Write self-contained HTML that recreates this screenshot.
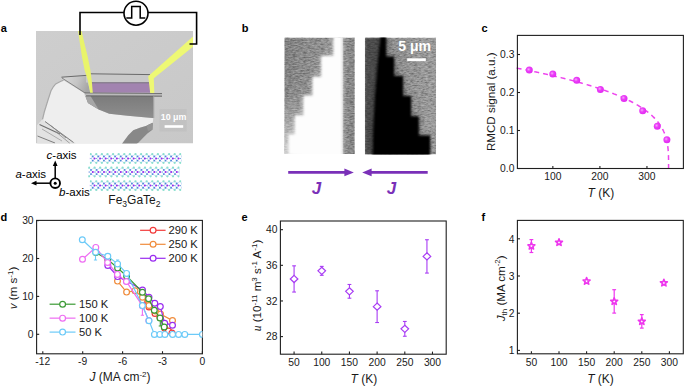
<!DOCTYPE html>
<html><head><meta charset="utf-8"><title>figure</title>
<style>
html,body{margin:0;padding:0;background:#fff;width:685px;height:386px;overflow:hidden;}
svg{display:block;}
text{font-family:"Liberation Sans",sans-serif;}
</style></head><body>
<svg width="685" height="386" viewBox="0 0 685 386">
<rect width="685" height="386" fill="#fff"/>
<text x="0.80" y="31.60" font-size="11" text-anchor="start" font-weight="bold" fill="#000" >a</text>
<text x="241.80" y="32.20" font-size="11" text-anchor="start" font-weight="bold" fill="#000" >b</text>
<text x="481.60" y="31.80" font-size="11" text-anchor="start" font-weight="bold" fill="#000" >c</text>
<text x="0.60" y="220.80" font-size="11" text-anchor="start" font-weight="bold" fill="#000" >d</text>
<text x="241.60" y="220.80" font-size="11" text-anchor="start" font-weight="bold" fill="#000" >e</text>
<text x="481.60" y="220.60" font-size="11" text-anchor="start" font-weight="bold" fill="#000" >f</text>
<defs>
<clipPath id="clipA"><rect x="36" y="31" width="157" height="112.5"/></clipPath>
<linearGradient id="bgA" x1="0" y1="0" x2="1" y2="1"><stop offset="0" stop-color="#cecece"/><stop offset="1" stop-color="#c8c8c8"/></linearGradient>
<linearGradient id="wedge" x1="0" y1="0" x2="1" y2="0.3"><stop offset="0" stop-color="#dcdcdc"/><stop offset="0.6" stop-color="#c4c4c4"/><stop offset="1" stop-color="#a6a6a6"/></linearGradient>
<linearGradient id="shadow" x1="0" y1="0" x2="0" y2="1"><stop offset="0" stop-color="#7b7b7b"/><stop offset="1" stop-color="#8e8e8e"/></linearGradient>
<filter id="noise" x="0" y="0" width="100%" height="100%"><feTurbulence type="fractalNoise" baseFrequency="0.9" numOctaves="2" seed="3"/><feColorMatrix type="matrix" values="0 0 0 0 0.5  0 0 0 0 0.5  0 0 0 0 0.5  1.2 0 0 0 -0.35"/></filter>
<filter id="noise2" x="0" y="0" width="100%" height="100%"><feTurbulence type="fractalNoise" baseFrequency="0.55 0.9" numOctaves="2" seed="7"/><feColorMatrix type="matrix" values="0 0 0 0 0  0 0 0 0 0  0 0 0 0 0  0 0 0 -1.4 0.75"/></filter>
<filter id="noise3" x="0" y="0" width="100%" height="100%"><feTurbulence type="fractalNoise" baseFrequency="0.55 0.9" numOctaves="2" seed="11"/><feColorMatrix type="matrix" values="0 0 0 0 1  0 0 0 0 1  0 0 0 0 1  0 0 0 1.4 -0.55"/></filter>
<radialGradient id="sph" cx="0.4" cy="0.4" r="0.6"><stop offset="0" stop-color="#f6a6fb"/><stop offset="0.45" stop-color="#ea3ff7"/><stop offset="1" stop-color="#e22af2"/></radialGradient>
</defs>
<g clip-path="url(#clipA)">
<rect x="36" y="31" width="157" height="112.5" fill="url(#bgA)"/>
<path d="M37.5,125 L42.5,119.5 L44.3,112 L48,100 L51,90.7 L53.5,86.5 L55.7,83.9 L60.9,81.3 L63.5,80.3 L88,95.6 L85.3,96.2 L88,103 L98.7,109.6 L109.2,113.7 L127.6,115.7 L152.3,117.9 L153.2,118.5 L152.8,122.8 L149,124.4 L146.6,125.7 L139.9,127.8 L133.3,130.3 L128.3,135.2 L123.3,141.9 L121.8,144 L37.5,144 Z" fill="#eeeeee"/>
<path d="M42.5,119.5 L44.3,112 L48,100 L51,90.7 L53.5,86.5 L55.7,83.9 L60.9,81.3 L63.5,80.3" stroke="#a8a8a8" stroke-width="1.2" fill="none"/>
<path d="M37.5,125 L42.5,119.5 L75.5,143 L75.5,144 L37.5,144 Z" fill="#e2e2e2"/>
<line x1="39.5" y1="124.5" x2="60" y2="134" stroke="#6e6e6e" stroke-width="1.1"/>
<line x1="45" y1="121.5" x2="73.5" y2="142.5" stroke="#7a7a7a" stroke-width="1.0"/>
<line x1="50" y1="125" x2="66" y2="138" stroke="#8a8a8a" stroke-width="0.9"/>
<line x1="37.5" y1="136" x2="55" y2="143" stroke="#7e7e7e" stroke-width="1.0"/>
<line x1="42" y1="129" x2="62" y2="141" stroke="#a0a0a0" stroke-width="0.8"/>
<line x1="55" y1="131" x2="70" y2="143.5" stroke="#909090" stroke-width="0.8"/>
<path d="M85.3,95.6 L153.5,95.6 L153.5,118 L152.3,117.9 L127.6,115.7 L109.2,113.7 L98.7,109.6 L88,103 Z" fill="url(#shadow)"/>
<path d="M85.3,96 L90.5,96 L98.7,109.6 L88,103 Z" fill="#a6a6a6"/>
<path d="M121.8,144 L123.3,141.9 L128.3,135.2 L133.3,130.3 L139.9,127.8 L146.6,125.7 L149,124.4 L152.8,122.8 L152.4,129.8 L147.4,133.6 L142.4,138.6 L138.3,142.7 L136.6,144 Z" fill="#888888"/>
<path d="M146.6,125.7 L149,124.4 L152.8,122.8 L152.4,129.8 L148,131 Z" fill="#959595"/>
<path d="M61.4,77.4 L86,75.4 L90.5,93 L88.3,95.4 Z" fill="url(#wedge)"/>
<path d="M62,78 L88.5,95.2" stroke="#858585" stroke-width="1" fill="none"/>
<rect x="86" y="74.5" width="66" height="8" fill="#c9c9c9"/>
<path d="M61.4,77.2 L86,75.4 L91,73.8 L150,74.6" stroke="#6a6a6a" stroke-width="1" fill="none"/>
<rect x="90.5" y="82.3" width="60" height="10.4" fill="#a283b0"/>
<line x1="90.5" y1="82.8" x2="150.5" y2="82.8" stroke="#7c7880" stroke-width="1"/>
<path d="M84.7,93 L162,93.6 L162,96 L84.7,95.6 Z" fill="#bababa"/>
<line x1="84.7" y1="92.9" x2="162" y2="93.5" stroke="#6a6a6a" stroke-width="0.9"/>
<line x1="86" y1="95.9" x2="162" y2="96.2" stroke="#666" stroke-width="1"/>
<line x1="153.8" y1="96" x2="153.8" y2="118" stroke="#a0a0a0" stroke-width="0.8"/>
<rect x="154" y="75" width="6" height="18" fill="#cbcbcb"/>
<path d="M78.1,31 L81.6,31 L84.6,44 L87.8,57 L90.4,70 L91.8,81 L92.8,92.8 L90.2,92.8 L88,81 L84.6,70 L82,57 L80,44 Z" fill="#e9f46a"/>
<path d="M193,36.6 L193,46.8 L153.8,78.2 L154.3,93 L150.2,93 L148.2,76.3 Z" fill="#eef874"/>
<rect x="159.3" y="109" width="27.5" height="22.5" fill="#000" opacity="0.03"/>
<text x="173.60" y="120.10" font-size="8.9" text-anchor="middle" font-weight="bold" fill="#fff" >10 μm</text>
<rect x="164.6" y="125.2" width="18.6" height="2.6" fill="#fff"/>
</g>
<path d="M80,35 L80,12.5 L124,12.5" stroke="#000" stroke-width="1.6" fill="none"/>
<path d="M148,12.5 L196.6,12.5 L196.6,44 L189.5,44" stroke="#000" stroke-width="1.6" fill="none"/>
<circle cx="136" cy="13.2" r="12" stroke="#000" stroke-width="1.6" fill="#fff"/>
<path d="M126.3,17.9 L131.7,17.9 L131.7,6.6 L140.2,6.6 L140.2,17.9 L145.3,17.9" stroke="#000" stroke-width="1.5" fill="none"/>
<line x1="55.2" y1="183.2" x2="55.2" y2="164.5" stroke="#000" stroke-width="1.5"/>
<path d="M55.2,160.5 L52.8,166 L57.6,166 Z" fill="#000"/>
<line x1="55.2" y1="183.2" x2="35" y2="183.2" stroke="#000" stroke-width="1.5"/>
<path d="M31,183.2 L36.5,180.8 L36.5,185.6 Z" fill="#000"/>
<circle cx="55.2" cy="183.2" r="4.8" stroke="#000" stroke-width="1.9" fill="#fff"/>
<circle cx="55.2" cy="183.2" r="1.5" fill="#000"/>
<text x="46.6" y="158.6" font-size="11.5" fill="#000"><tspan font-style="italic">c</tspan>-axis</text>
<text x="15.4" y="177.5" font-size="11.5" fill="#000"><tspan font-style="italic">a</tspan>-axis</text>
<text x="59.0" y="196.1" font-size="11.5" fill="#000"><tspan font-style="italic">b</tspan>-axis</text>
<g clip-path="url(#clipCr)">
<clipPath id="clipCr"><rect x="88" y="152" width="94" height="40"/></clipPath>
</g>
<clipPath id="clipCr1"><rect x="89.9" y="150" width="91.5" height="16"/></clipPath><clipPath id="clipCr2"><rect x="88.3" y="165" width="91.3" height="14"/></clipPath><clipPath id="clipCr3"><rect x="89.9" y="178" width="91.5" height="14"/></clipPath>
<g clip-path="url(#clipCr1)"><path d="M85.10,154.20 L87.10,156.40 L90.70,154.20 M85.10,162.80 L87.10,160.60 L90.70,162.80 M87.10,156.40 L88.90,158.50 L87.10,160.60 M87.10,156.40 L85.40,158.50 L87.10,160.60 M88.90,158.50 L91.00,158.50" stroke="#a9c6ee" stroke-width="0.55" fill="none"/><circle cx="85.10" cy="154.20" r="1.15" fill="#8adfcf"/><circle cx="85.10" cy="162.80" r="1.15" fill="#8adfcf"/><circle cx="87.10" cy="156.40" r="0.95" fill="#4f8ad9"/><circle cx="87.10" cy="160.60" r="0.95" fill="#4f8ad9"/><circle cx="85.40" cy="158.50" r="0.6" fill="#6b9fe0"/><circle cx="88.90" cy="158.50" r="1.0" fill="#9b25ee"/><path d="M90.70,154.20 L92.70,156.40 L96.30,154.20 M90.70,162.80 L92.70,160.60 L96.30,162.80 M92.70,156.40 L94.50,158.50 L92.70,160.60 M92.70,156.40 L91.00,158.50 L92.70,160.60 M94.50,158.50 L96.60,158.50" stroke="#a9c6ee" stroke-width="0.55" fill="none"/><circle cx="90.70" cy="154.20" r="1.15" fill="#8adfcf"/><circle cx="90.70" cy="162.80" r="1.15" fill="#8adfcf"/><circle cx="92.70" cy="156.40" r="0.95" fill="#4f8ad9"/><circle cx="92.70" cy="160.60" r="0.95" fill="#4f8ad9"/><circle cx="91.00" cy="158.50" r="0.6" fill="#6b9fe0"/><circle cx="94.50" cy="158.50" r="1.0" fill="#9b25ee"/><path d="M96.30,154.20 L98.30,156.40 L101.90,154.20 M96.30,162.80 L98.30,160.60 L101.90,162.80 M98.30,156.40 L100.10,158.50 L98.30,160.60 M98.30,156.40 L96.60,158.50 L98.30,160.60 M100.10,158.50 L102.20,158.50" stroke="#a9c6ee" stroke-width="0.55" fill="none"/><circle cx="96.30" cy="154.20" r="1.15" fill="#8adfcf"/><circle cx="96.30" cy="162.80" r="1.15" fill="#8adfcf"/><circle cx="98.30" cy="156.40" r="0.95" fill="#4f8ad9"/><circle cx="98.30" cy="160.60" r="0.95" fill="#4f8ad9"/><circle cx="96.60" cy="158.50" r="0.6" fill="#6b9fe0"/><circle cx="100.10" cy="158.50" r="1.0" fill="#9b25ee"/><path d="M101.90,154.20 L103.90,156.40 L107.50,154.20 M101.90,162.80 L103.90,160.60 L107.50,162.80 M103.90,156.40 L105.70,158.50 L103.90,160.60 M103.90,156.40 L102.20,158.50 L103.90,160.60 M105.70,158.50 L107.80,158.50" stroke="#a9c6ee" stroke-width="0.55" fill="none"/><circle cx="101.90" cy="154.20" r="1.15" fill="#8adfcf"/><circle cx="101.90" cy="162.80" r="1.15" fill="#8adfcf"/><circle cx="103.90" cy="156.40" r="0.95" fill="#4f8ad9"/><circle cx="103.90" cy="160.60" r="0.95" fill="#4f8ad9"/><circle cx="102.20" cy="158.50" r="0.6" fill="#6b9fe0"/><circle cx="105.70" cy="158.50" r="1.0" fill="#9b25ee"/><path d="M107.50,154.20 L109.50,156.40 L113.10,154.20 M107.50,162.80 L109.50,160.60 L113.10,162.80 M109.50,156.40 L111.30,158.50 L109.50,160.60 M109.50,156.40 L107.80,158.50 L109.50,160.60 M111.30,158.50 L113.40,158.50" stroke="#a9c6ee" stroke-width="0.55" fill="none"/><circle cx="107.50" cy="154.20" r="1.15" fill="#8adfcf"/><circle cx="107.50" cy="162.80" r="1.15" fill="#8adfcf"/><circle cx="109.50" cy="156.40" r="0.95" fill="#4f8ad9"/><circle cx="109.50" cy="160.60" r="0.95" fill="#4f8ad9"/><circle cx="107.80" cy="158.50" r="0.6" fill="#6b9fe0"/><circle cx="111.30" cy="158.50" r="1.0" fill="#9b25ee"/><path d="M113.10,154.20 L115.10,156.40 L118.70,154.20 M113.10,162.80 L115.10,160.60 L118.70,162.80 M115.10,156.40 L116.90,158.50 L115.10,160.60 M115.10,156.40 L113.40,158.50 L115.10,160.60 M116.90,158.50 L119.00,158.50" stroke="#a9c6ee" stroke-width="0.55" fill="none"/><circle cx="113.10" cy="154.20" r="1.15" fill="#8adfcf"/><circle cx="113.10" cy="162.80" r="1.15" fill="#8adfcf"/><circle cx="115.10" cy="156.40" r="0.95" fill="#4f8ad9"/><circle cx="115.10" cy="160.60" r="0.95" fill="#4f8ad9"/><circle cx="113.40" cy="158.50" r="0.6" fill="#6b9fe0"/><circle cx="116.90" cy="158.50" r="1.0" fill="#9b25ee"/><path d="M118.70,154.20 L120.70,156.40 L124.30,154.20 M118.70,162.80 L120.70,160.60 L124.30,162.80 M120.70,156.40 L122.50,158.50 L120.70,160.60 M120.70,156.40 L119.00,158.50 L120.70,160.60 M122.50,158.50 L124.60,158.50" stroke="#a9c6ee" stroke-width="0.55" fill="none"/><circle cx="118.70" cy="154.20" r="1.15" fill="#8adfcf"/><circle cx="118.70" cy="162.80" r="1.15" fill="#8adfcf"/><circle cx="120.70" cy="156.40" r="0.95" fill="#4f8ad9"/><circle cx="120.70" cy="160.60" r="0.95" fill="#4f8ad9"/><circle cx="119.00" cy="158.50" r="0.6" fill="#6b9fe0"/><circle cx="122.50" cy="158.50" r="1.0" fill="#9b25ee"/><path d="M124.30,154.20 L126.30,156.40 L129.90,154.20 M124.30,162.80 L126.30,160.60 L129.90,162.80 M126.30,156.40 L128.10,158.50 L126.30,160.60 M126.30,156.40 L124.60,158.50 L126.30,160.60 M128.10,158.50 L130.20,158.50" stroke="#a9c6ee" stroke-width="0.55" fill="none"/><circle cx="124.30" cy="154.20" r="1.15" fill="#8adfcf"/><circle cx="124.30" cy="162.80" r="1.15" fill="#8adfcf"/><circle cx="126.30" cy="156.40" r="0.95" fill="#4f8ad9"/><circle cx="126.30" cy="160.60" r="0.95" fill="#4f8ad9"/><circle cx="124.60" cy="158.50" r="0.6" fill="#6b9fe0"/><circle cx="128.10" cy="158.50" r="1.0" fill="#9b25ee"/><path d="M129.90,154.20 L131.90,156.40 L135.50,154.20 M129.90,162.80 L131.90,160.60 L135.50,162.80 M131.90,156.40 L133.70,158.50 L131.90,160.60 M131.90,156.40 L130.20,158.50 L131.90,160.60 M133.70,158.50 L135.80,158.50" stroke="#a9c6ee" stroke-width="0.55" fill="none"/><circle cx="129.90" cy="154.20" r="1.15" fill="#8adfcf"/><circle cx="129.90" cy="162.80" r="1.15" fill="#8adfcf"/><circle cx="131.90" cy="156.40" r="0.95" fill="#4f8ad9"/><circle cx="131.90" cy="160.60" r="0.95" fill="#4f8ad9"/><circle cx="130.20" cy="158.50" r="0.6" fill="#6b9fe0"/><circle cx="133.70" cy="158.50" r="1.0" fill="#9b25ee"/><path d="M135.50,154.20 L137.50,156.40 L141.10,154.20 M135.50,162.80 L137.50,160.60 L141.10,162.80 M137.50,156.40 L139.30,158.50 L137.50,160.60 M137.50,156.40 L135.80,158.50 L137.50,160.60 M139.30,158.50 L141.40,158.50" stroke="#a9c6ee" stroke-width="0.55" fill="none"/><circle cx="135.50" cy="154.20" r="1.15" fill="#8adfcf"/><circle cx="135.50" cy="162.80" r="1.15" fill="#8adfcf"/><circle cx="137.50" cy="156.40" r="0.95" fill="#4f8ad9"/><circle cx="137.50" cy="160.60" r="0.95" fill="#4f8ad9"/><circle cx="135.80" cy="158.50" r="0.6" fill="#6b9fe0"/><circle cx="139.30" cy="158.50" r="1.0" fill="#9b25ee"/><path d="M141.10,154.20 L143.10,156.40 L146.70,154.20 M141.10,162.80 L143.10,160.60 L146.70,162.80 M143.10,156.40 L144.90,158.50 L143.10,160.60 M143.10,156.40 L141.40,158.50 L143.10,160.60 M144.90,158.50 L147.00,158.50" stroke="#a9c6ee" stroke-width="0.55" fill="none"/><circle cx="141.10" cy="154.20" r="1.15" fill="#8adfcf"/><circle cx="141.10" cy="162.80" r="1.15" fill="#8adfcf"/><circle cx="143.10" cy="156.40" r="0.95" fill="#4f8ad9"/><circle cx="143.10" cy="160.60" r="0.95" fill="#4f8ad9"/><circle cx="141.40" cy="158.50" r="0.6" fill="#6b9fe0"/><circle cx="144.90" cy="158.50" r="1.0" fill="#9b25ee"/><path d="M146.70,154.20 L148.70,156.40 L152.30,154.20 M146.70,162.80 L148.70,160.60 L152.30,162.80 M148.70,156.40 L150.50,158.50 L148.70,160.60 M148.70,156.40 L147.00,158.50 L148.70,160.60 M150.50,158.50 L152.60,158.50" stroke="#a9c6ee" stroke-width="0.55" fill="none"/><circle cx="146.70" cy="154.20" r="1.15" fill="#8adfcf"/><circle cx="146.70" cy="162.80" r="1.15" fill="#8adfcf"/><circle cx="148.70" cy="156.40" r="0.95" fill="#4f8ad9"/><circle cx="148.70" cy="160.60" r="0.95" fill="#4f8ad9"/><circle cx="147.00" cy="158.50" r="0.6" fill="#6b9fe0"/><circle cx="150.50" cy="158.50" r="1.0" fill="#9b25ee"/><path d="M152.30,154.20 L154.30,156.40 L157.90,154.20 M152.30,162.80 L154.30,160.60 L157.90,162.80 M154.30,156.40 L156.10,158.50 L154.30,160.60 M154.30,156.40 L152.60,158.50 L154.30,160.60 M156.10,158.50 L158.20,158.50" stroke="#a9c6ee" stroke-width="0.55" fill="none"/><circle cx="152.30" cy="154.20" r="1.15" fill="#8adfcf"/><circle cx="152.30" cy="162.80" r="1.15" fill="#8adfcf"/><circle cx="154.30" cy="156.40" r="0.95" fill="#4f8ad9"/><circle cx="154.30" cy="160.60" r="0.95" fill="#4f8ad9"/><circle cx="152.60" cy="158.50" r="0.6" fill="#6b9fe0"/><circle cx="156.10" cy="158.50" r="1.0" fill="#9b25ee"/><path d="M157.90,154.20 L159.90,156.40 L163.50,154.20 M157.90,162.80 L159.90,160.60 L163.50,162.80 M159.90,156.40 L161.70,158.50 L159.90,160.60 M159.90,156.40 L158.20,158.50 L159.90,160.60 M161.70,158.50 L163.80,158.50" stroke="#a9c6ee" stroke-width="0.55" fill="none"/><circle cx="157.90" cy="154.20" r="1.15" fill="#8adfcf"/><circle cx="157.90" cy="162.80" r="1.15" fill="#8adfcf"/><circle cx="159.90" cy="156.40" r="0.95" fill="#4f8ad9"/><circle cx="159.90" cy="160.60" r="0.95" fill="#4f8ad9"/><circle cx="158.20" cy="158.50" r="0.6" fill="#6b9fe0"/><circle cx="161.70" cy="158.50" r="1.0" fill="#9b25ee"/><path d="M163.50,154.20 L165.50,156.40 L169.10,154.20 M163.50,162.80 L165.50,160.60 L169.10,162.80 M165.50,156.40 L167.30,158.50 L165.50,160.60 M165.50,156.40 L163.80,158.50 L165.50,160.60 M167.30,158.50 L169.40,158.50" stroke="#a9c6ee" stroke-width="0.55" fill="none"/><circle cx="163.50" cy="154.20" r="1.15" fill="#8adfcf"/><circle cx="163.50" cy="162.80" r="1.15" fill="#8adfcf"/><circle cx="165.50" cy="156.40" r="0.95" fill="#4f8ad9"/><circle cx="165.50" cy="160.60" r="0.95" fill="#4f8ad9"/><circle cx="163.80" cy="158.50" r="0.6" fill="#6b9fe0"/><circle cx="167.30" cy="158.50" r="1.0" fill="#9b25ee"/><path d="M169.10,154.20 L171.10,156.40 L174.70,154.20 M169.10,162.80 L171.10,160.60 L174.70,162.80 M171.10,156.40 L172.90,158.50 L171.10,160.60 M171.10,156.40 L169.40,158.50 L171.10,160.60 M172.90,158.50 L175.00,158.50" stroke="#a9c6ee" stroke-width="0.55" fill="none"/><circle cx="169.10" cy="154.20" r="1.15" fill="#8adfcf"/><circle cx="169.10" cy="162.80" r="1.15" fill="#8adfcf"/><circle cx="171.10" cy="156.40" r="0.95" fill="#4f8ad9"/><circle cx="171.10" cy="160.60" r="0.95" fill="#4f8ad9"/><circle cx="169.40" cy="158.50" r="0.6" fill="#6b9fe0"/><circle cx="172.90" cy="158.50" r="1.0" fill="#9b25ee"/><path d="M174.70,154.20 L176.70,156.40 L180.30,154.20 M174.70,162.80 L176.70,160.60 L180.30,162.80 M176.70,156.40 L178.50,158.50 L176.70,160.60 M176.70,156.40 L175.00,158.50 L176.70,160.60 M178.50,158.50 L180.60,158.50" stroke="#a9c6ee" stroke-width="0.55" fill="none"/><circle cx="174.70" cy="154.20" r="1.15" fill="#8adfcf"/><circle cx="174.70" cy="162.80" r="1.15" fill="#8adfcf"/><circle cx="176.70" cy="156.40" r="0.95" fill="#4f8ad9"/><circle cx="176.70" cy="160.60" r="0.95" fill="#4f8ad9"/><circle cx="175.00" cy="158.50" r="0.6" fill="#6b9fe0"/><circle cx="178.50" cy="158.50" r="1.0" fill="#9b25ee"/><path d="M180.30,154.20 L182.30,156.40 L185.90,154.20 M180.30,162.80 L182.30,160.60 L185.90,162.80 M182.30,156.40 L184.10,158.50 L182.30,160.60 M182.30,156.40 L180.60,158.50 L182.30,160.60 M184.10,158.50 L186.20,158.50" stroke="#a9c6ee" stroke-width="0.55" fill="none"/><circle cx="180.30" cy="154.20" r="1.15" fill="#8adfcf"/><circle cx="180.30" cy="162.80" r="1.15" fill="#8adfcf"/><circle cx="182.30" cy="156.40" r="0.95" fill="#4f8ad9"/><circle cx="182.30" cy="160.60" r="0.95" fill="#4f8ad9"/><circle cx="180.60" cy="158.50" r="0.6" fill="#6b9fe0"/><circle cx="184.10" cy="158.50" r="1.0" fill="#9b25ee"/></g>
<g clip-path="url(#clipCr2)"><path d="M83.40,167.70 L85.40,169.90 L89.00,167.70 M83.40,176.30 L85.40,174.10 L89.00,176.30 M85.40,169.90 L87.20,172.00 L85.40,174.10 M85.40,169.90 L83.70,172.00 L85.40,174.10 M87.20,172.00 L89.30,172.00" stroke="#a9c6ee" stroke-width="0.55" fill="none"/><circle cx="83.40" cy="167.70" r="1.15" fill="#8adfcf"/><circle cx="83.40" cy="176.30" r="1.15" fill="#8adfcf"/><circle cx="85.40" cy="169.90" r="0.95" fill="#4f8ad9"/><circle cx="85.40" cy="174.10" r="0.95" fill="#4f8ad9"/><circle cx="83.70" cy="172.00" r="0.6" fill="#6b9fe0"/><circle cx="87.20" cy="172.00" r="1.0" fill="#9b25ee"/><path d="M89.00,167.70 L91.00,169.90 L94.60,167.70 M89.00,176.30 L91.00,174.10 L94.60,176.30 M91.00,169.90 L92.80,172.00 L91.00,174.10 M91.00,169.90 L89.30,172.00 L91.00,174.10 M92.80,172.00 L94.90,172.00" stroke="#a9c6ee" stroke-width="0.55" fill="none"/><circle cx="89.00" cy="167.70" r="1.15" fill="#8adfcf"/><circle cx="89.00" cy="176.30" r="1.15" fill="#8adfcf"/><circle cx="91.00" cy="169.90" r="0.95" fill="#4f8ad9"/><circle cx="91.00" cy="174.10" r="0.95" fill="#4f8ad9"/><circle cx="89.30" cy="172.00" r="0.6" fill="#6b9fe0"/><circle cx="92.80" cy="172.00" r="1.0" fill="#9b25ee"/><path d="M94.60,167.70 L96.60,169.90 L100.20,167.70 M94.60,176.30 L96.60,174.10 L100.20,176.30 M96.60,169.90 L98.40,172.00 L96.60,174.10 M96.60,169.90 L94.90,172.00 L96.60,174.10 M98.40,172.00 L100.50,172.00" stroke="#a9c6ee" stroke-width="0.55" fill="none"/><circle cx="94.60" cy="167.70" r="1.15" fill="#8adfcf"/><circle cx="94.60" cy="176.30" r="1.15" fill="#8adfcf"/><circle cx="96.60" cy="169.90" r="0.95" fill="#4f8ad9"/><circle cx="96.60" cy="174.10" r="0.95" fill="#4f8ad9"/><circle cx="94.90" cy="172.00" r="0.6" fill="#6b9fe0"/><circle cx="98.40" cy="172.00" r="1.0" fill="#9b25ee"/><path d="M100.20,167.70 L102.20,169.90 L105.80,167.70 M100.20,176.30 L102.20,174.10 L105.80,176.30 M102.20,169.90 L104.00,172.00 L102.20,174.10 M102.20,169.90 L100.50,172.00 L102.20,174.10 M104.00,172.00 L106.10,172.00" stroke="#a9c6ee" stroke-width="0.55" fill="none"/><circle cx="100.20" cy="167.70" r="1.15" fill="#8adfcf"/><circle cx="100.20" cy="176.30" r="1.15" fill="#8adfcf"/><circle cx="102.20" cy="169.90" r="0.95" fill="#4f8ad9"/><circle cx="102.20" cy="174.10" r="0.95" fill="#4f8ad9"/><circle cx="100.50" cy="172.00" r="0.6" fill="#6b9fe0"/><circle cx="104.00" cy="172.00" r="1.0" fill="#9b25ee"/><path d="M105.80,167.70 L107.80,169.90 L111.40,167.70 M105.80,176.30 L107.80,174.10 L111.40,176.30 M107.80,169.90 L109.60,172.00 L107.80,174.10 M107.80,169.90 L106.10,172.00 L107.80,174.10 M109.60,172.00 L111.70,172.00" stroke="#a9c6ee" stroke-width="0.55" fill="none"/><circle cx="105.80" cy="167.70" r="1.15" fill="#8adfcf"/><circle cx="105.80" cy="176.30" r="1.15" fill="#8adfcf"/><circle cx="107.80" cy="169.90" r="0.95" fill="#4f8ad9"/><circle cx="107.80" cy="174.10" r="0.95" fill="#4f8ad9"/><circle cx="106.10" cy="172.00" r="0.6" fill="#6b9fe0"/><circle cx="109.60" cy="172.00" r="1.0" fill="#9b25ee"/><path d="M111.40,167.70 L113.40,169.90 L117.00,167.70 M111.40,176.30 L113.40,174.10 L117.00,176.30 M113.40,169.90 L115.20,172.00 L113.40,174.10 M113.40,169.90 L111.70,172.00 L113.40,174.10 M115.20,172.00 L117.30,172.00" stroke="#a9c6ee" stroke-width="0.55" fill="none"/><circle cx="111.40" cy="167.70" r="1.15" fill="#8adfcf"/><circle cx="111.40" cy="176.30" r="1.15" fill="#8adfcf"/><circle cx="113.40" cy="169.90" r="0.95" fill="#4f8ad9"/><circle cx="113.40" cy="174.10" r="0.95" fill="#4f8ad9"/><circle cx="111.70" cy="172.00" r="0.6" fill="#6b9fe0"/><circle cx="115.20" cy="172.00" r="1.0" fill="#9b25ee"/><path d="M117.00,167.70 L119.00,169.90 L122.60,167.70 M117.00,176.30 L119.00,174.10 L122.60,176.30 M119.00,169.90 L120.80,172.00 L119.00,174.10 M119.00,169.90 L117.30,172.00 L119.00,174.10 M120.80,172.00 L122.90,172.00" stroke="#a9c6ee" stroke-width="0.55" fill="none"/><circle cx="117.00" cy="167.70" r="1.15" fill="#8adfcf"/><circle cx="117.00" cy="176.30" r="1.15" fill="#8adfcf"/><circle cx="119.00" cy="169.90" r="0.95" fill="#4f8ad9"/><circle cx="119.00" cy="174.10" r="0.95" fill="#4f8ad9"/><circle cx="117.30" cy="172.00" r="0.6" fill="#6b9fe0"/><circle cx="120.80" cy="172.00" r="1.0" fill="#9b25ee"/><path d="M122.60,167.70 L124.60,169.90 L128.20,167.70 M122.60,176.30 L124.60,174.10 L128.20,176.30 M124.60,169.90 L126.40,172.00 L124.60,174.10 M124.60,169.90 L122.90,172.00 L124.60,174.10 M126.40,172.00 L128.50,172.00" stroke="#a9c6ee" stroke-width="0.55" fill="none"/><circle cx="122.60" cy="167.70" r="1.15" fill="#8adfcf"/><circle cx="122.60" cy="176.30" r="1.15" fill="#8adfcf"/><circle cx="124.60" cy="169.90" r="0.95" fill="#4f8ad9"/><circle cx="124.60" cy="174.10" r="0.95" fill="#4f8ad9"/><circle cx="122.90" cy="172.00" r="0.6" fill="#6b9fe0"/><circle cx="126.40" cy="172.00" r="1.0" fill="#9b25ee"/><path d="M128.20,167.70 L130.20,169.90 L133.80,167.70 M128.20,176.30 L130.20,174.10 L133.80,176.30 M130.20,169.90 L132.00,172.00 L130.20,174.10 M130.20,169.90 L128.50,172.00 L130.20,174.10 M132.00,172.00 L134.10,172.00" stroke="#a9c6ee" stroke-width="0.55" fill="none"/><circle cx="128.20" cy="167.70" r="1.15" fill="#8adfcf"/><circle cx="128.20" cy="176.30" r="1.15" fill="#8adfcf"/><circle cx="130.20" cy="169.90" r="0.95" fill="#4f8ad9"/><circle cx="130.20" cy="174.10" r="0.95" fill="#4f8ad9"/><circle cx="128.50" cy="172.00" r="0.6" fill="#6b9fe0"/><circle cx="132.00" cy="172.00" r="1.0" fill="#9b25ee"/><path d="M133.80,167.70 L135.80,169.90 L139.40,167.70 M133.80,176.30 L135.80,174.10 L139.40,176.30 M135.80,169.90 L137.60,172.00 L135.80,174.10 M135.80,169.90 L134.10,172.00 L135.80,174.10 M137.60,172.00 L139.70,172.00" stroke="#a9c6ee" stroke-width="0.55" fill="none"/><circle cx="133.80" cy="167.70" r="1.15" fill="#8adfcf"/><circle cx="133.80" cy="176.30" r="1.15" fill="#8adfcf"/><circle cx="135.80" cy="169.90" r="0.95" fill="#4f8ad9"/><circle cx="135.80" cy="174.10" r="0.95" fill="#4f8ad9"/><circle cx="134.10" cy="172.00" r="0.6" fill="#6b9fe0"/><circle cx="137.60" cy="172.00" r="1.0" fill="#9b25ee"/><path d="M139.40,167.70 L141.40,169.90 L145.00,167.70 M139.40,176.30 L141.40,174.10 L145.00,176.30 M141.40,169.90 L143.20,172.00 L141.40,174.10 M141.40,169.90 L139.70,172.00 L141.40,174.10 M143.20,172.00 L145.30,172.00" stroke="#a9c6ee" stroke-width="0.55" fill="none"/><circle cx="139.40" cy="167.70" r="1.15" fill="#8adfcf"/><circle cx="139.40" cy="176.30" r="1.15" fill="#8adfcf"/><circle cx="141.40" cy="169.90" r="0.95" fill="#4f8ad9"/><circle cx="141.40" cy="174.10" r="0.95" fill="#4f8ad9"/><circle cx="139.70" cy="172.00" r="0.6" fill="#6b9fe0"/><circle cx="143.20" cy="172.00" r="1.0" fill="#9b25ee"/><path d="M145.00,167.70 L147.00,169.90 L150.60,167.70 M145.00,176.30 L147.00,174.10 L150.60,176.30 M147.00,169.90 L148.80,172.00 L147.00,174.10 M147.00,169.90 L145.30,172.00 L147.00,174.10 M148.80,172.00 L150.90,172.00" stroke="#a9c6ee" stroke-width="0.55" fill="none"/><circle cx="145.00" cy="167.70" r="1.15" fill="#8adfcf"/><circle cx="145.00" cy="176.30" r="1.15" fill="#8adfcf"/><circle cx="147.00" cy="169.90" r="0.95" fill="#4f8ad9"/><circle cx="147.00" cy="174.10" r="0.95" fill="#4f8ad9"/><circle cx="145.30" cy="172.00" r="0.6" fill="#6b9fe0"/><circle cx="148.80" cy="172.00" r="1.0" fill="#9b25ee"/><path d="M150.60,167.70 L152.60,169.90 L156.20,167.70 M150.60,176.30 L152.60,174.10 L156.20,176.30 M152.60,169.90 L154.40,172.00 L152.60,174.10 M152.60,169.90 L150.90,172.00 L152.60,174.10 M154.40,172.00 L156.50,172.00" stroke="#a9c6ee" stroke-width="0.55" fill="none"/><circle cx="150.60" cy="167.70" r="1.15" fill="#8adfcf"/><circle cx="150.60" cy="176.30" r="1.15" fill="#8adfcf"/><circle cx="152.60" cy="169.90" r="0.95" fill="#4f8ad9"/><circle cx="152.60" cy="174.10" r="0.95" fill="#4f8ad9"/><circle cx="150.90" cy="172.00" r="0.6" fill="#6b9fe0"/><circle cx="154.40" cy="172.00" r="1.0" fill="#9b25ee"/><path d="M156.20,167.70 L158.20,169.90 L161.80,167.70 M156.20,176.30 L158.20,174.10 L161.80,176.30 M158.20,169.90 L160.00,172.00 L158.20,174.10 M158.20,169.90 L156.50,172.00 L158.20,174.10 M160.00,172.00 L162.10,172.00" stroke="#a9c6ee" stroke-width="0.55" fill="none"/><circle cx="156.20" cy="167.70" r="1.15" fill="#8adfcf"/><circle cx="156.20" cy="176.30" r="1.15" fill="#8adfcf"/><circle cx="158.20" cy="169.90" r="0.95" fill="#4f8ad9"/><circle cx="158.20" cy="174.10" r="0.95" fill="#4f8ad9"/><circle cx="156.50" cy="172.00" r="0.6" fill="#6b9fe0"/><circle cx="160.00" cy="172.00" r="1.0" fill="#9b25ee"/><path d="M161.80,167.70 L163.80,169.90 L167.40,167.70 M161.80,176.30 L163.80,174.10 L167.40,176.30 M163.80,169.90 L165.60,172.00 L163.80,174.10 M163.80,169.90 L162.10,172.00 L163.80,174.10 M165.60,172.00 L167.70,172.00" stroke="#a9c6ee" stroke-width="0.55" fill="none"/><circle cx="161.80" cy="167.70" r="1.15" fill="#8adfcf"/><circle cx="161.80" cy="176.30" r="1.15" fill="#8adfcf"/><circle cx="163.80" cy="169.90" r="0.95" fill="#4f8ad9"/><circle cx="163.80" cy="174.10" r="0.95" fill="#4f8ad9"/><circle cx="162.10" cy="172.00" r="0.6" fill="#6b9fe0"/><circle cx="165.60" cy="172.00" r="1.0" fill="#9b25ee"/><path d="M167.40,167.70 L169.40,169.90 L173.00,167.70 M167.40,176.30 L169.40,174.10 L173.00,176.30 M169.40,169.90 L171.20,172.00 L169.40,174.10 M169.40,169.90 L167.70,172.00 L169.40,174.10 M171.20,172.00 L173.30,172.00" stroke="#a9c6ee" stroke-width="0.55" fill="none"/><circle cx="167.40" cy="167.70" r="1.15" fill="#8adfcf"/><circle cx="167.40" cy="176.30" r="1.15" fill="#8adfcf"/><circle cx="169.40" cy="169.90" r="0.95" fill="#4f8ad9"/><circle cx="169.40" cy="174.10" r="0.95" fill="#4f8ad9"/><circle cx="167.70" cy="172.00" r="0.6" fill="#6b9fe0"/><circle cx="171.20" cy="172.00" r="1.0" fill="#9b25ee"/><path d="M173.00,167.70 L175.00,169.90 L178.60,167.70 M173.00,176.30 L175.00,174.10 L178.60,176.30 M175.00,169.90 L176.80,172.00 L175.00,174.10 M175.00,169.90 L173.30,172.00 L175.00,174.10 M176.80,172.00 L178.90,172.00" stroke="#a9c6ee" stroke-width="0.55" fill="none"/><circle cx="173.00" cy="167.70" r="1.15" fill="#8adfcf"/><circle cx="173.00" cy="176.30" r="1.15" fill="#8adfcf"/><circle cx="175.00" cy="169.90" r="0.95" fill="#4f8ad9"/><circle cx="175.00" cy="174.10" r="0.95" fill="#4f8ad9"/><circle cx="173.30" cy="172.00" r="0.6" fill="#6b9fe0"/><circle cx="176.80" cy="172.00" r="1.0" fill="#9b25ee"/><path d="M178.60,167.70 L180.60,169.90 L184.20,167.70 M178.60,176.30 L180.60,174.10 L184.20,176.30 M180.60,169.90 L182.40,172.00 L180.60,174.10 M180.60,169.90 L178.90,172.00 L180.60,174.10 M182.40,172.00 L184.50,172.00" stroke="#a9c6ee" stroke-width="0.55" fill="none"/><circle cx="178.60" cy="167.70" r="1.15" fill="#8adfcf"/><circle cx="178.60" cy="176.30" r="1.15" fill="#8adfcf"/><circle cx="180.60" cy="169.90" r="0.95" fill="#4f8ad9"/><circle cx="180.60" cy="174.10" r="0.95" fill="#4f8ad9"/><circle cx="178.90" cy="172.00" r="0.6" fill="#6b9fe0"/><circle cx="182.40" cy="172.00" r="1.0" fill="#9b25ee"/></g>
<g clip-path="url(#clipCr3)"><path d="M85.10,181.30 L87.10,183.50 L90.70,181.30 M85.10,189.90 L87.10,187.70 L90.70,189.90 M87.10,183.50 L88.90,185.60 L87.10,187.70 M87.10,183.50 L85.40,185.60 L87.10,187.70 M88.90,185.60 L91.00,185.60" stroke="#a9c6ee" stroke-width="0.55" fill="none"/><circle cx="85.10" cy="181.30" r="1.15" fill="#8adfcf"/><circle cx="85.10" cy="189.90" r="1.15" fill="#8adfcf"/><circle cx="87.10" cy="183.50" r="0.95" fill="#4f8ad9"/><circle cx="87.10" cy="187.70" r="0.95" fill="#4f8ad9"/><circle cx="85.40" cy="185.60" r="0.6" fill="#6b9fe0"/><circle cx="88.90" cy="185.60" r="1.0" fill="#9b25ee"/><path d="M90.70,181.30 L92.70,183.50 L96.30,181.30 M90.70,189.90 L92.70,187.70 L96.30,189.90 M92.70,183.50 L94.50,185.60 L92.70,187.70 M92.70,183.50 L91.00,185.60 L92.70,187.70 M94.50,185.60 L96.60,185.60" stroke="#a9c6ee" stroke-width="0.55" fill="none"/><circle cx="90.70" cy="181.30" r="1.15" fill="#8adfcf"/><circle cx="90.70" cy="189.90" r="1.15" fill="#8adfcf"/><circle cx="92.70" cy="183.50" r="0.95" fill="#4f8ad9"/><circle cx="92.70" cy="187.70" r="0.95" fill="#4f8ad9"/><circle cx="91.00" cy="185.60" r="0.6" fill="#6b9fe0"/><circle cx="94.50" cy="185.60" r="1.0" fill="#9b25ee"/><path d="M96.30,181.30 L98.30,183.50 L101.90,181.30 M96.30,189.90 L98.30,187.70 L101.90,189.90 M98.30,183.50 L100.10,185.60 L98.30,187.70 M98.30,183.50 L96.60,185.60 L98.30,187.70 M100.10,185.60 L102.20,185.60" stroke="#a9c6ee" stroke-width="0.55" fill="none"/><circle cx="96.30" cy="181.30" r="1.15" fill="#8adfcf"/><circle cx="96.30" cy="189.90" r="1.15" fill="#8adfcf"/><circle cx="98.30" cy="183.50" r="0.95" fill="#4f8ad9"/><circle cx="98.30" cy="187.70" r="0.95" fill="#4f8ad9"/><circle cx="96.60" cy="185.60" r="0.6" fill="#6b9fe0"/><circle cx="100.10" cy="185.60" r="1.0" fill="#9b25ee"/><path d="M101.90,181.30 L103.90,183.50 L107.50,181.30 M101.90,189.90 L103.90,187.70 L107.50,189.90 M103.90,183.50 L105.70,185.60 L103.90,187.70 M103.90,183.50 L102.20,185.60 L103.90,187.70 M105.70,185.60 L107.80,185.60" stroke="#a9c6ee" stroke-width="0.55" fill="none"/><circle cx="101.90" cy="181.30" r="1.15" fill="#8adfcf"/><circle cx="101.90" cy="189.90" r="1.15" fill="#8adfcf"/><circle cx="103.90" cy="183.50" r="0.95" fill="#4f8ad9"/><circle cx="103.90" cy="187.70" r="0.95" fill="#4f8ad9"/><circle cx="102.20" cy="185.60" r="0.6" fill="#6b9fe0"/><circle cx="105.70" cy="185.60" r="1.0" fill="#9b25ee"/><path d="M107.50,181.30 L109.50,183.50 L113.10,181.30 M107.50,189.90 L109.50,187.70 L113.10,189.90 M109.50,183.50 L111.30,185.60 L109.50,187.70 M109.50,183.50 L107.80,185.60 L109.50,187.70 M111.30,185.60 L113.40,185.60" stroke="#a9c6ee" stroke-width="0.55" fill="none"/><circle cx="107.50" cy="181.30" r="1.15" fill="#8adfcf"/><circle cx="107.50" cy="189.90" r="1.15" fill="#8adfcf"/><circle cx="109.50" cy="183.50" r="0.95" fill="#4f8ad9"/><circle cx="109.50" cy="187.70" r="0.95" fill="#4f8ad9"/><circle cx="107.80" cy="185.60" r="0.6" fill="#6b9fe0"/><circle cx="111.30" cy="185.60" r="1.0" fill="#9b25ee"/><path d="M113.10,181.30 L115.10,183.50 L118.70,181.30 M113.10,189.90 L115.10,187.70 L118.70,189.90 M115.10,183.50 L116.90,185.60 L115.10,187.70 M115.10,183.50 L113.40,185.60 L115.10,187.70 M116.90,185.60 L119.00,185.60" stroke="#a9c6ee" stroke-width="0.55" fill="none"/><circle cx="113.10" cy="181.30" r="1.15" fill="#8adfcf"/><circle cx="113.10" cy="189.90" r="1.15" fill="#8adfcf"/><circle cx="115.10" cy="183.50" r="0.95" fill="#4f8ad9"/><circle cx="115.10" cy="187.70" r="0.95" fill="#4f8ad9"/><circle cx="113.40" cy="185.60" r="0.6" fill="#6b9fe0"/><circle cx="116.90" cy="185.60" r="1.0" fill="#9b25ee"/><path d="M118.70,181.30 L120.70,183.50 L124.30,181.30 M118.70,189.90 L120.70,187.70 L124.30,189.90 M120.70,183.50 L122.50,185.60 L120.70,187.70 M120.70,183.50 L119.00,185.60 L120.70,187.70 M122.50,185.60 L124.60,185.60" stroke="#a9c6ee" stroke-width="0.55" fill="none"/><circle cx="118.70" cy="181.30" r="1.15" fill="#8adfcf"/><circle cx="118.70" cy="189.90" r="1.15" fill="#8adfcf"/><circle cx="120.70" cy="183.50" r="0.95" fill="#4f8ad9"/><circle cx="120.70" cy="187.70" r="0.95" fill="#4f8ad9"/><circle cx="119.00" cy="185.60" r="0.6" fill="#6b9fe0"/><circle cx="122.50" cy="185.60" r="1.0" fill="#9b25ee"/><path d="M124.30,181.30 L126.30,183.50 L129.90,181.30 M124.30,189.90 L126.30,187.70 L129.90,189.90 M126.30,183.50 L128.10,185.60 L126.30,187.70 M126.30,183.50 L124.60,185.60 L126.30,187.70 M128.10,185.60 L130.20,185.60" stroke="#a9c6ee" stroke-width="0.55" fill="none"/><circle cx="124.30" cy="181.30" r="1.15" fill="#8adfcf"/><circle cx="124.30" cy="189.90" r="1.15" fill="#8adfcf"/><circle cx="126.30" cy="183.50" r="0.95" fill="#4f8ad9"/><circle cx="126.30" cy="187.70" r="0.95" fill="#4f8ad9"/><circle cx="124.60" cy="185.60" r="0.6" fill="#6b9fe0"/><circle cx="128.10" cy="185.60" r="1.0" fill="#9b25ee"/><path d="M129.90,181.30 L131.90,183.50 L135.50,181.30 M129.90,189.90 L131.90,187.70 L135.50,189.90 M131.90,183.50 L133.70,185.60 L131.90,187.70 M131.90,183.50 L130.20,185.60 L131.90,187.70 M133.70,185.60 L135.80,185.60" stroke="#a9c6ee" stroke-width="0.55" fill="none"/><circle cx="129.90" cy="181.30" r="1.15" fill="#8adfcf"/><circle cx="129.90" cy="189.90" r="1.15" fill="#8adfcf"/><circle cx="131.90" cy="183.50" r="0.95" fill="#4f8ad9"/><circle cx="131.90" cy="187.70" r="0.95" fill="#4f8ad9"/><circle cx="130.20" cy="185.60" r="0.6" fill="#6b9fe0"/><circle cx="133.70" cy="185.60" r="1.0" fill="#9b25ee"/><path d="M135.50,181.30 L137.50,183.50 L141.10,181.30 M135.50,189.90 L137.50,187.70 L141.10,189.90 M137.50,183.50 L139.30,185.60 L137.50,187.70 M137.50,183.50 L135.80,185.60 L137.50,187.70 M139.30,185.60 L141.40,185.60" stroke="#a9c6ee" stroke-width="0.55" fill="none"/><circle cx="135.50" cy="181.30" r="1.15" fill="#8adfcf"/><circle cx="135.50" cy="189.90" r="1.15" fill="#8adfcf"/><circle cx="137.50" cy="183.50" r="0.95" fill="#4f8ad9"/><circle cx="137.50" cy="187.70" r="0.95" fill="#4f8ad9"/><circle cx="135.80" cy="185.60" r="0.6" fill="#6b9fe0"/><circle cx="139.30" cy="185.60" r="1.0" fill="#9b25ee"/><path d="M141.10,181.30 L143.10,183.50 L146.70,181.30 M141.10,189.90 L143.10,187.70 L146.70,189.90 M143.10,183.50 L144.90,185.60 L143.10,187.70 M143.10,183.50 L141.40,185.60 L143.10,187.70 M144.90,185.60 L147.00,185.60" stroke="#a9c6ee" stroke-width="0.55" fill="none"/><circle cx="141.10" cy="181.30" r="1.15" fill="#8adfcf"/><circle cx="141.10" cy="189.90" r="1.15" fill="#8adfcf"/><circle cx="143.10" cy="183.50" r="0.95" fill="#4f8ad9"/><circle cx="143.10" cy="187.70" r="0.95" fill="#4f8ad9"/><circle cx="141.40" cy="185.60" r="0.6" fill="#6b9fe0"/><circle cx="144.90" cy="185.60" r="1.0" fill="#9b25ee"/><path d="M146.70,181.30 L148.70,183.50 L152.30,181.30 M146.70,189.90 L148.70,187.70 L152.30,189.90 M148.70,183.50 L150.50,185.60 L148.70,187.70 M148.70,183.50 L147.00,185.60 L148.70,187.70 M150.50,185.60 L152.60,185.60" stroke="#a9c6ee" stroke-width="0.55" fill="none"/><circle cx="146.70" cy="181.30" r="1.15" fill="#8adfcf"/><circle cx="146.70" cy="189.90" r="1.15" fill="#8adfcf"/><circle cx="148.70" cy="183.50" r="0.95" fill="#4f8ad9"/><circle cx="148.70" cy="187.70" r="0.95" fill="#4f8ad9"/><circle cx="147.00" cy="185.60" r="0.6" fill="#6b9fe0"/><circle cx="150.50" cy="185.60" r="1.0" fill="#9b25ee"/><path d="M152.30,181.30 L154.30,183.50 L157.90,181.30 M152.30,189.90 L154.30,187.70 L157.90,189.90 M154.30,183.50 L156.10,185.60 L154.30,187.70 M154.30,183.50 L152.60,185.60 L154.30,187.70 M156.10,185.60 L158.20,185.60" stroke="#a9c6ee" stroke-width="0.55" fill="none"/><circle cx="152.30" cy="181.30" r="1.15" fill="#8adfcf"/><circle cx="152.30" cy="189.90" r="1.15" fill="#8adfcf"/><circle cx="154.30" cy="183.50" r="0.95" fill="#4f8ad9"/><circle cx="154.30" cy="187.70" r="0.95" fill="#4f8ad9"/><circle cx="152.60" cy="185.60" r="0.6" fill="#6b9fe0"/><circle cx="156.10" cy="185.60" r="1.0" fill="#9b25ee"/><path d="M157.90,181.30 L159.90,183.50 L163.50,181.30 M157.90,189.90 L159.90,187.70 L163.50,189.90 M159.90,183.50 L161.70,185.60 L159.90,187.70 M159.90,183.50 L158.20,185.60 L159.90,187.70 M161.70,185.60 L163.80,185.60" stroke="#a9c6ee" stroke-width="0.55" fill="none"/><circle cx="157.90" cy="181.30" r="1.15" fill="#8adfcf"/><circle cx="157.90" cy="189.90" r="1.15" fill="#8adfcf"/><circle cx="159.90" cy="183.50" r="0.95" fill="#4f8ad9"/><circle cx="159.90" cy="187.70" r="0.95" fill="#4f8ad9"/><circle cx="158.20" cy="185.60" r="0.6" fill="#6b9fe0"/><circle cx="161.70" cy="185.60" r="1.0" fill="#9b25ee"/><path d="M163.50,181.30 L165.50,183.50 L169.10,181.30 M163.50,189.90 L165.50,187.70 L169.10,189.90 M165.50,183.50 L167.30,185.60 L165.50,187.70 M165.50,183.50 L163.80,185.60 L165.50,187.70 M167.30,185.60 L169.40,185.60" stroke="#a9c6ee" stroke-width="0.55" fill="none"/><circle cx="163.50" cy="181.30" r="1.15" fill="#8adfcf"/><circle cx="163.50" cy="189.90" r="1.15" fill="#8adfcf"/><circle cx="165.50" cy="183.50" r="0.95" fill="#4f8ad9"/><circle cx="165.50" cy="187.70" r="0.95" fill="#4f8ad9"/><circle cx="163.80" cy="185.60" r="0.6" fill="#6b9fe0"/><circle cx="167.30" cy="185.60" r="1.0" fill="#9b25ee"/><path d="M169.10,181.30 L171.10,183.50 L174.70,181.30 M169.10,189.90 L171.10,187.70 L174.70,189.90 M171.10,183.50 L172.90,185.60 L171.10,187.70 M171.10,183.50 L169.40,185.60 L171.10,187.70 M172.90,185.60 L175.00,185.60" stroke="#a9c6ee" stroke-width="0.55" fill="none"/><circle cx="169.10" cy="181.30" r="1.15" fill="#8adfcf"/><circle cx="169.10" cy="189.90" r="1.15" fill="#8adfcf"/><circle cx="171.10" cy="183.50" r="0.95" fill="#4f8ad9"/><circle cx="171.10" cy="187.70" r="0.95" fill="#4f8ad9"/><circle cx="169.40" cy="185.60" r="0.6" fill="#6b9fe0"/><circle cx="172.90" cy="185.60" r="1.0" fill="#9b25ee"/><path d="M174.70,181.30 L176.70,183.50 L180.30,181.30 M174.70,189.90 L176.70,187.70 L180.30,189.90 M176.70,183.50 L178.50,185.60 L176.70,187.70 M176.70,183.50 L175.00,185.60 L176.70,187.70 M178.50,185.60 L180.60,185.60" stroke="#a9c6ee" stroke-width="0.55" fill="none"/><circle cx="174.70" cy="181.30" r="1.15" fill="#8adfcf"/><circle cx="174.70" cy="189.90" r="1.15" fill="#8adfcf"/><circle cx="176.70" cy="183.50" r="0.95" fill="#4f8ad9"/><circle cx="176.70" cy="187.70" r="0.95" fill="#4f8ad9"/><circle cx="175.00" cy="185.60" r="0.6" fill="#6b9fe0"/><circle cx="178.50" cy="185.60" r="1.0" fill="#9b25ee"/><path d="M180.30,181.30 L182.30,183.50 L185.90,181.30 M180.30,189.90 L182.30,187.70 L185.90,189.90 M182.30,183.50 L184.10,185.60 L182.30,187.70 M182.30,183.50 L180.60,185.60 L182.30,187.70 M184.10,185.60 L186.20,185.60" stroke="#a9c6ee" stroke-width="0.55" fill="none"/><circle cx="180.30" cy="181.30" r="1.15" fill="#8adfcf"/><circle cx="180.30" cy="189.90" r="1.15" fill="#8adfcf"/><circle cx="182.30" cy="183.50" r="0.95" fill="#4f8ad9"/><circle cx="182.30" cy="187.70" r="0.95" fill="#4f8ad9"/><circle cx="180.60" cy="185.60" r="0.6" fill="#6b9fe0"/><circle cx="184.10" cy="185.60" r="1.0" fill="#9b25ee"/></g>
<g>
</g>
<text x="108.3" y="203.9" font-size="12" fill="#1a1a1a">Fe<tspan font-size="8.6" dy="2.8">3</tspan><tspan dy="-2.8">GaTe</tspan><tspan font-size="8.6" dy="2.8">2</tspan></text>
<defs>
<filter id="nz" x="0" y="0" width="100%" height="100%" color-interpolation-filters="sRGB"><feTurbulence type="fractalNoise" baseFrequency="0.28 0.75" numOctaves="2" seed="5" result="t"/><feColorMatrix in="t" type="matrix" values="0 0 0 0 0  0 0 0 0 0  0 0 0 0 0  -2.4 0 0 0 1.2" result="dk"/><feColorMatrix in="t" type="matrix" values="0 0 0 0 1  0 0 0 0 1  0 0 0 0 1  2.4 0 0 0 -1.2" result="lt"/><feMerge><feMergeNode in="dk"/><feMergeNode in="lt"/></feMerge></filter>
<filter id="nz2" x="0" y="0" width="100%" height="100%" color-interpolation-filters="sRGB"><feTurbulence type="fractalNoise" baseFrequency="0.28 0.75" numOctaves="2" seed="9" result="t"/><feColorMatrix in="t" type="matrix" values="0 0 0 0 0  0 0 0 0 0  0 0 0 0 0  -2.4 0 0 0 1.2" result="dk"/><feColorMatrix in="t" type="matrix" values="0 0 0 0 1  0 0 0 0 1  0 0 0 0 1  2.4 0 0 0 -1.2" result="lt"/><feMerge><feMergeNode in="dk"/><feMergeNode in="lt"/></feMerge></filter>
<filter id="soft" x="-10%" y="-10%" width="120%" height="120%"><feGaussianBlur stdDeviation="0.9"/></filter>
<filter id="halo" x="-20%" y="-20%" width="140%" height="140%"><feGaussianBlur stdDeviation="3.2"/></filter>
<linearGradient id="gL" x1="0" y1="0" x2="1" y2="0"><stop offset="0" stop-color="#808080"/><stop offset="0.7" stop-color="#969696"/><stop offset="0.8" stop-color="#8c8c8c"/><stop offset="1" stop-color="#868686"/></linearGradient>
<linearGradient id="gR" x1="0" y1="0" x2="1" y2="0"><stop offset="0" stop-color="#868686"/><stop offset="1" stop-color="#9c9c9c"/></linearGradient>
<clipPath id="clipBL"><rect x="284.3" y="37.5" width="70.5" height="116.6"/></clipPath>
<clipPath id="clipBR"><rect x="364.9" y="37.6" width="71.2" height="116.8"/></clipPath>
</defs>
<linearGradient id="gLv" x1="0" y1="0" x2="0" y2="1"><stop offset="0" stop-color="#fff" stop-opacity="0"/><stop offset="0.45" stop-color="#fff" stop-opacity="0.04"/><stop offset="0.66" stop-color="#fff" stop-opacity="0.22"/><stop offset="0.84" stop-color="#fff" stop-opacity="0.45"/><stop offset="1" stop-color="#fff" stop-opacity="0.6"/></linearGradient>
<filter id="soft2" x="-10%" y="-10%" width="120%" height="120%"><feGaussianBlur stdDeviation="1.3"/></filter>
<g clip-path="url(#clipBL)">
<rect x="284.3" y="37.5" width="70.5" height="116.6" fill="url(#gL)"/>
<rect x="284.3" y="37.5" width="70.5" height="116.6" filter="url(#nz)" opacity="0.33"/>
<rect x="284.3" y="37.5" width="57" height="116.6" fill="url(#gLv)"/>
<path d="M342.3,30 L333.5,30 L333.5,56.0 L321.3,56.0 L321.3,77.1 L312.6,77.1 L312.6,95.7 L303.5,95.7 L303.5,115.5 L295.0,115.5 L295.0,134.4 L288.8,134.4 L288.8,154.6 L342.3,160 Z" fill="#ffffff" opacity="0.5" filter="url(#halo)"/>
<path d="M342.3,30 L333.5,30 L333.5,56.0 L321.3,56.0 L321.3,77.1 L312.6,77.1 L312.6,95.7 L303.5,95.7 L303.5,115.5 L295.0,115.5 L295.0,134.4 L288.8,134.4 L288.8,154.6 L342.3,160 Z" fill="#fdfdfd" filter="url(#soft2)"/>
<rect x="341" y="30" width="1.6" height="130" fill="#f6f6f6" filter="url(#soft)"/>
</g>
<g clip-path="url(#clipBR)">
<rect x="364.9" y="37.6" width="71.2" height="116.8" fill="url(#gR)"/>
<rect x="364.9" y="37.6" width="71.2" height="116.8" filter="url(#nz2)" opacity="0.33"/>
<path d="M364.9,37.6 L381,37.6 L376,100 L373.5,154.8 L364.9,154.8 Z" fill="#1e1e1e" opacity="0.55" filter="url(#soft)"/>
<path d="M381,30 L386.2,37.6 L386.2,56.5 L394.1,56.5 L394.1,76.0 L403.0,76.0 L403.0,96.0 L411.0,96.0 L411.0,116.3 L418.8,116.3 L418.8,135.6 L430.0,135.6 L430.0,160 L372.5,160 L373.2,130 L375,95 L377.5,65 Z" fill="#000" opacity="0.4" filter="url(#halo)"/>
<path d="M381,30 L386.2,37.6 L386.2,56.5 L394.1,56.5 L394.1,76.0 L403.0,76.0 L403.0,96.0 L411.0,96.0 L411.0,116.3 L418.8,116.3 L418.8,135.6 L430.0,135.6 L430.0,160 L372.5,160 L373.2,130 L375,95 L377.5,65 Z" fill="#030303" filter="url(#soft)"/>
</g>
<text x="414.6" y="51.4" font-size="14" font-weight="bold" text-anchor="middle" fill="#fff">5 μm</text>
<rect x="407.2" y="58.3" width="18.6" height="2.8" fill="#fff"/>
<line x1="288.2" y1="172.4" x2="346" y2="172.4" stroke="#7a30b8" stroke-width="2.6"/>
<path d="M353.8,172.4 L344.4,168.6 L344.4,176.2 Z" fill="#7a30b8"/>
<line x1="370" y1="172.4" x2="427.7" y2="172.4" stroke="#7a30b8" stroke-width="2.6"/>
<path d="M362.2,172.4 L371.6,168.6 L371.6,176.2 Z" fill="#7a30b8"/>
<text x="316.6" y="193.6" font-size="17" font-weight="bold" font-style="italic" text-anchor="middle" fill="#7a30b8">J</text>
<text x="391.4" y="193.6" font-size="17" font-weight="bold" font-style="italic" text-anchor="middle" fill="#7a30b8">J</text>
<path d="M516.62,68.11 L517.09,68.20 L517.56,68.29 L518.03,68.38 L518.50,68.47 L518.97,68.57 L519.44,68.66 L519.91,68.75 L520.39,68.84 L520.86,68.93 L521.33,69.02 L521.80,69.12 L522.27,69.21 L522.74,69.30 L523.21,69.39 L523.68,69.49 L524.15,69.58 L524.62,69.67 L525.09,69.77 L525.56,69.86 L526.03,69.96 L526.50,70.05 L526.97,70.15 L527.44,70.24 L527.91,70.34 L528.38,70.43 L528.85,70.53 L529.33,70.62 L529.80,70.72 L530.27,70.81 L530.74,70.91 L531.21,71.01 L531.68,71.10 L532.15,71.20 L532.62,71.30 L533.09,71.40 L533.56,71.49 L534.03,71.59 L534.50,71.69 L534.97,71.79 L535.44,71.89 L535.91,71.99 L536.38,72.09 L536.85,72.19 L537.32,72.29 L537.79,72.39 L538.26,72.49 L538.74,72.59 L539.21,72.69 L539.68,72.79 L540.15,72.89 L540.62,72.99 L541.09,73.09 L541.56,73.20 L542.03,73.30 L542.50,73.40 L542.97,73.51 L543.44,73.61 L543.91,73.71 L544.38,73.82 L544.85,73.92 L545.32,74.02 L545.79,74.13 L546.26,74.23 L546.73,74.34 L547.20,74.45 L547.67,74.55 L548.14,74.66 L548.62,74.76 L549.09,74.87 L549.56,74.98 L550.03,75.09 L550.50,75.19 L550.97,75.30 L551.44,75.41 L551.91,75.52 L552.38,75.63 L552.85,75.74 L553.32,75.85 L553.79,75.95 L554.26,76.07 L554.73,76.18 L555.20,76.29 L555.67,76.40 L556.14,76.51 L556.61,76.62 L557.08,76.73 L557.56,76.85 L558.03,76.96 L558.50,77.07 L558.97,77.18 L559.44,77.30 L559.91,77.41 L560.38,77.53 L560.85,77.64 L561.32,77.76 L561.79,77.87 L562.26,77.99 L562.73,78.11 L563.20,78.22 L563.67,78.34 L564.14,78.46 L564.61,78.57 L565.08,78.69 L565.55,78.81 L566.02,78.93 L566.49,79.05 L566.97,79.17 L567.44,79.29 L567.91,79.41 L568.38,79.53 L568.85,79.65 L569.32,79.77 L569.79,79.90 L570.26,80.02 L570.73,80.14 L571.20,80.26 L571.67,80.39 L572.14,80.51 L572.61,80.64 L573.08,80.76 L573.55,80.89 L574.02,81.01 L574.49,81.14 L574.96,81.27 L575.43,81.39 L575.90,81.52 L576.38,81.65 L576.85,81.78 L577.32,81.91 L577.79,82.04 L578.26,82.17 L578.73,82.30 L579.20,82.43 L579.67,82.56 L580.14,82.69 L580.61,82.83 L581.08,82.96 L581.55,83.09 L582.02,83.23 L582.49,83.36 L582.96,83.50 L583.43,83.63 L583.90,83.77 L584.37,83.91 L584.84,84.04 L585.31,84.18 L585.78,84.32 L586.26,84.46 L586.73,84.60 L587.20,84.74 L587.67,84.88 L588.14,85.02 L588.61,85.16 L589.08,85.30 L589.55,85.45 L590.02,85.59 L590.49,85.74 L590.96,85.88 L591.43,86.03 L591.90,86.17 L592.37,86.32 L592.84,86.47 L593.31,86.61 L593.78,86.76 L594.25,86.91 L594.72,87.06 L595.20,87.21 L595.67,87.37 L596.14,87.52 L596.61,87.67 L597.08,87.82 L597.55,87.98 L598.02,88.13 L598.49,88.29 L598.96,88.45 L599.43,88.60 L599.90,88.76 L600.37,88.92 L600.84,89.08 L601.31,89.24 L601.78,89.40 L602.25,89.56 L602.72,89.73 L603.19,89.89 L603.66,90.05 L604.13,90.22 L604.61,90.38 L605.08,90.55 L605.55,90.72 L606.02,90.89 L606.49,91.06 L606.96,91.23 L607.43,91.40 L607.90,91.57 L608.37,91.75 L608.84,91.92 L609.31,92.10 L609.78,92.27 L610.25,92.45 L610.72,92.63 L611.19,92.81 L611.66,92.99 L612.13,93.17 L612.60,93.35 L613.07,93.54 L613.54,93.72 L614.01,93.91 L614.49,94.09 L614.96,94.28 L615.43,94.47 L615.90,94.66 L616.37,94.85 L616.84,95.05 L617.31,95.24 L617.78,95.44 L618.25,95.63 L618.72,95.83 L619.19,96.03 L619.66,96.23 L620.13,96.43 L620.60,96.64 L621.07,96.84 L621.54,97.05 L622.01,97.26 L622.48,97.47 L622.95,97.68 L623.42,97.89 L623.90,98.10 L624.37,98.32 L624.84,98.54 L625.31,98.76 L625.78,98.98 L626.25,99.20 L626.72,99.42 L627.19,99.65 L627.66,99.88 L628.13,100.11 L628.60,100.34 L629.07,100.57 L629.54,100.81 L630.01,101.04 L630.48,101.28 L630.95,101.53 L631.42,101.77 L631.89,102.02 L632.36,102.26 L632.84,102.51 L633.31,102.77 L633.78,103.02 L634.25,103.28 L634.72,103.54 L635.19,103.80 L635.66,104.07 L636.13,104.34 L636.60,104.61 L637.07,104.88 L637.54,105.16 L638.01,105.44 L638.48,105.72 L638.95,106.01 L639.42,106.30 L639.89,106.59 L640.36,106.89 L640.83,107.19 L641.30,107.49 L641.77,107.80 L642.25,108.11 L642.72,108.42 L643.19,108.74 L643.66,109.06 L644.13,109.39 L644.60,109.72 L645.07,110.06 L645.54,110.40 L646.01,110.75 L646.48,111.10 L646.95,111.46 L647.42,111.82 L647.89,112.19 L648.36,112.56 L648.83,112.94 L649.30,113.33 L649.77,113.72 L650.24,114.12 L650.71,114.53 L651.18,114.95 L651.65,115.37 L652.13,115.80 L652.60,116.24 L653.07,116.69 L653.54,117.15 L654.01,117.62 L654.48,118.11 L654.95,118.60 L655.42,119.10 L655.89,119.62 L656.36,120.15 L656.83,120.70 L657.30,121.26 L657.77,121.84 L658.24,122.44 L658.71,123.06 L659.18,123.70 L659.65,124.36 L660.12,125.05 L660.59,125.76 L661.07,126.50 L661.11,126.58 L661.16,126.66 L661.21,126.73 L661.25,126.81 L661.30,126.89 L661.35,126.97 L661.39,127.05 L661.44,127.12 L661.49,127.20 L661.54,127.28 L661.58,127.36 L661.63,127.44 L661.68,127.52 L661.72,127.60 L661.77,127.69 L661.82,127.77 L661.86,127.85 L661.91,127.93 L661.96,128.02 L662.01,128.10 L662.05,128.18 L662.10,128.27 L662.15,128.35 L662.19,128.44 L662.24,128.52 L662.29,128.61 L662.34,128.70 L662.38,128.78 L662.43,128.87 L662.48,128.96 L662.52,129.05 L662.57,129.14 L662.62,129.23 L662.66,129.32 L662.71,129.41 L662.76,129.50 L662.81,129.59 L662.85,129.68 L662.90,129.77 L662.95,129.87 L662.99,129.96 L663.04,130.05 L663.09,130.15 L663.14,130.24 L663.18,130.34 L663.23,130.44 L663.28,130.53 L663.32,130.63 L663.37,130.73 L663.42,130.83 L663.46,130.93 L663.51,131.03 L663.56,131.13 L663.61,131.23 L663.65,131.33 L663.70,131.44 L663.75,131.54 L663.79,131.64 L663.84,131.75 L663.89,131.86 L663.94,131.96 L663.98,132.07 L664.03,132.18 L664.08,132.29 L664.12,132.40 L664.17,132.51 L664.22,132.62 L664.26,132.73 L664.31,132.84 L664.36,132.96 L664.41,133.07 L664.45,133.19 L664.50,133.31 L664.55,133.42 L664.59,133.54 L664.64,133.66 L664.69,133.78 L664.73,133.90 L664.78,134.03 L664.83,134.15 L664.88,134.28 L664.92,134.40 L664.97,134.53 L665.02,134.66 L665.06,134.79 L665.11,134.92 L665.16,135.05 L665.21,135.19 L665.25,135.32 L665.30,135.46 L665.35,135.59 L665.39,135.73 L665.44,135.87 L665.49,136.02 L665.53,136.16 L665.58,136.30 L665.63,136.45 L665.68,136.60 L665.72,136.75 L665.77,136.90 L665.82,137.05 L665.86,137.21 L665.91,137.37 L665.96,137.53 L666.01,137.69 L666.05,137.85 L666.10,138.02 L666.15,138.19 L666.19,138.36 L666.24,138.53 L666.29,138.70 L666.33,138.88 L666.38,139.06 L666.43,139.24 L666.48,139.43 L666.52,139.62 L666.57,139.81 L666.62,140.01 L666.66,140.20 L666.71,140.41 L666.76,140.61 L666.81,140.82 L666.85,141.03 L666.90,141.25 L666.95,141.47 L666.99,141.70 L667.04,141.93 L667.09,142.17 L667.13,142.41 L667.18,142.66 L667.23,142.91 L667.28,143.17 L667.32,143.43 L667.37,143.71 L667.42,143.99 L667.46,144.27 L667.51,144.57 L667.56,144.88 L667.60,145.19 L667.65,145.52 L667.70,145.86 L667.75,146.21 L667.79,146.58 L667.84,146.96 L667.89,147.36 L667.93,147.78 L667.98,148.22 L668.03,148.69 L668.08,149.18 L668.12,149.71 L668.17,150.27 L668.22,150.88 L668.26,151.55 L668.31,152.29 L668.36,153.13 L668.40,154.09 L668.45,155.25 L668.50,156.72 L668.55,158.86 L668.59,168.50" stroke="#ee44ee" stroke-width="1.5" fill="none" stroke-dasharray="5 4"/>
<rect x="517.4" y="35.4" width="166.00" height="133.10" fill="none" stroke="#1f1f1f" stroke-width="1.1"/>
<line x1="517.4" y1="168.50" x2="520.0" y2="168.50" stroke="#1f1f1f" stroke-width="1.1"/>
<text x="514.40" y="172.20" font-size="10.3" text-anchor="end" fill="#1a1a1a" >0.0</text>
<line x1="517.4" y1="130.50" x2="520.0" y2="130.50" stroke="#1f1f1f" stroke-width="1.1"/>
<text x="514.40" y="134.20" font-size="10.3" text-anchor="end" fill="#1a1a1a" >0.1</text>
<line x1="517.4" y1="92.50" x2="520.0" y2="92.50" stroke="#1f1f1f" stroke-width="1.1"/>
<text x="514.40" y="96.20" font-size="10.3" text-anchor="end" fill="#1a1a1a" >0.2</text>
<line x1="517.4" y1="54.50" x2="520.0" y2="54.50" stroke="#1f1f1f" stroke-width="1.1"/>
<text x="514.40" y="58.20" font-size="10.3" text-anchor="end" fill="#1a1a1a" >0.3</text>
<line x1="552.85" y1="168.5" x2="552.85" y2="165.9" stroke="#1f1f1f" stroke-width="1.1"/>
<text x="552.85" y="179.80" font-size="10.3" text-anchor="middle" fill="#1a1a1a" >100</text>
<line x1="599.90" y1="168.5" x2="599.90" y2="165.9" stroke="#1f1f1f" stroke-width="1.1"/>
<text x="599.90" y="179.80" font-size="10.3" text-anchor="middle" fill="#1a1a1a" >200</text>
<line x1="646.95" y1="168.5" x2="646.95" y2="165.9" stroke="#1f1f1f" stroke-width="1.1"/>
<text x="646.95" y="179.80" font-size="10.3" text-anchor="middle" fill="#1a1a1a" >300</text>
<circle cx="529.30" cy="70.10" r="3.5" fill="url(#sph)"/>
<circle cx="552.80" cy="74.00" r="3.5" fill="url(#sph)"/>
<circle cx="576.70" cy="80.30" r="3.5" fill="url(#sph)"/>
<circle cx="600.40" cy="89.40" r="3.5" fill="url(#sph)"/>
<circle cx="624.00" cy="98.40" r="3.5" fill="url(#sph)"/>
<circle cx="642.70" cy="110.80" r="3.5" fill="url(#sph)"/>
<circle cx="657.30" cy="126.20" r="3.5" fill="url(#sph)"/>
<circle cx="666.90" cy="139.70" r="3.5" fill="url(#sph)"/>
<text x="600.9" y="196.8" font-size="12" text-anchor="middle" fill="#1a1a1a"><tspan font-style="italic">T</tspan> (K)</text>
<text transform="translate(494.8,101.8) rotate(-90)" x="0" y="0" font-size="11.6" text-anchor="middle" fill="#1a1a1a">RMCD signal (a.u.)</text>
<rect x="36.6" y="220.4" width="165.80" height="133.40" fill="none" stroke="#1f1f1f" stroke-width="1.1"/>
<line x1="36.6" y1="334.30" x2="39.2" y2="334.30" stroke="#1f1f1f" stroke-width="1.1"/>
<text x="33.60" y="338.00" font-size="10.3" text-anchor="end" fill="#1a1a1a" >0</text>
<line x1="36.6" y1="296.40" x2="39.2" y2="296.40" stroke="#1f1f1f" stroke-width="1.1"/>
<text x="33.60" y="300.10" font-size="10.3" text-anchor="end" fill="#1a1a1a" >10</text>
<line x1="36.6" y1="258.50" x2="39.2" y2="258.50" stroke="#1f1f1f" stroke-width="1.1"/>
<text x="33.60" y="262.20" font-size="10.3" text-anchor="end" fill="#1a1a1a" >20</text>
<line x1="36.6" y1="220.60" x2="39.2" y2="220.60" stroke="#1f1f1f" stroke-width="1.1"/>
<text x="33.60" y="224.30" font-size="10.3" text-anchor="end" fill="#1a1a1a" >30</text>
<line x1="42.80" y1="353.8" x2="42.80" y2="351.2" stroke="#1f1f1f" stroke-width="1.1"/>
<text x="42.80" y="365.00" font-size="10.3" text-anchor="middle" fill="#1a1a1a" >-12</text>
<line x1="82.70" y1="353.8" x2="82.70" y2="351.2" stroke="#1f1f1f" stroke-width="1.1"/>
<text x="82.70" y="365.00" font-size="10.3" text-anchor="middle" fill="#1a1a1a" >-9</text>
<line x1="122.60" y1="353.8" x2="122.60" y2="351.2" stroke="#1f1f1f" stroke-width="1.1"/>
<text x="122.60" y="365.00" font-size="10.3" text-anchor="middle" fill="#1a1a1a" >-6</text>
<line x1="162.50" y1="353.8" x2="162.50" y2="351.2" stroke="#1f1f1f" stroke-width="1.1"/>
<text x="162.50" y="365.00" font-size="10.3" text-anchor="middle" fill="#1a1a1a" >-3</text>
<line x1="202.40" y1="353.8" x2="202.40" y2="351.2" stroke="#1f1f1f" stroke-width="1.1"/>
<text x="202.40" y="365.00" font-size="10.3" text-anchor="middle" fill="#1a1a1a" >0</text>
<text x="120" y="381.4" font-size="12" text-anchor="middle" fill="#1a1a1a"><tspan font-style="italic">J</tspan> (MA cm<tspan font-size="8" dy="-4.5">-2</tspan><tspan dy="4.5">)</tspan></text>
<text transform="translate(17.3,288) rotate(-90)" font-size="11.6" text-anchor="middle" fill="#1a1a1a"><tspan font-style="italic">v</tspan> (m s<tspan font-size="8" dy="-4.5">-1</tspan><tspan dy="4.5">)</tspan></text>
<clipPath id="clipD"><rect x="36.6" y="220.4" width="165.8" height="133.4"/></clipPath>
<g clip-path="url(#clipD)">
<line x1="95.5" y1="245.4" x2="95.5" y2="260.0" stroke="#6ccaf8" stroke-width="1.1"/>
<line x1="93.9" y1="245.4" x2="97.1" y2="245.4" stroke="#6ccaf8" stroke-width="1.1"/>
<line x1="93.9" y1="260.0" x2="97.1" y2="260.0" stroke="#6ccaf8" stroke-width="1.1"/>
<line x1="142.4" y1="300.5" x2="142.4" y2="315.3" stroke="#ee6cf2" stroke-width="1.1"/>
<line x1="140.8" y1="300.5" x2="144.0" y2="300.5" stroke="#ee6cf2" stroke-width="1.1"/>
<line x1="140.8" y1="315.3" x2="144.0" y2="315.3" stroke="#ee6cf2" stroke-width="1.1"/>
<line x1="160.3" y1="312.0" x2="160.3" y2="326.0" stroke="#3a9a34" stroke-width="1.1"/>
<line x1="158.70000000000002" y1="312.0" x2="161.9" y2="312.0" stroke="#3a9a34" stroke-width="1.1"/>
<line x1="158.70000000000002" y1="326.0" x2="161.9" y2="326.0" stroke="#3a9a34" stroke-width="1.1"/>
<line x1="117.6" y1="260.0" x2="117.6" y2="270.0" stroke="#6ccaf8" stroke-width="1.1"/>
<line x1="116.0" y1="260.0" x2="119.19999999999999" y2="260.0" stroke="#6ccaf8" stroke-width="1.1"/>
<line x1="116.0" y1="270.0" x2="119.19999999999999" y2="270.0" stroke="#6ccaf8" stroke-width="1.1"/>
<path d="M142.5,300.0 L149.0,307.0 L155.0,313.5 L160.0,317.5 L164.7,328.3 L168.5,331.0 L172.0,333.0" stroke="#f23a3a" stroke-width="1.2" fill="none"/>
<circle cx="142.5" cy="300.0" r="2.9" stroke="#f23a3a" stroke-width="1.2" fill="#fff"/>
<circle cx="149.0" cy="307.0" r="2.9" stroke="#f23a3a" stroke-width="1.2" fill="#fff"/>
<circle cx="155.0" cy="313.5" r="2.9" stroke="#f23a3a" stroke-width="1.2" fill="#fff"/>
<circle cx="160.0" cy="317.5" r="2.9" stroke="#f23a3a" stroke-width="1.2" fill="#fff"/>
<circle cx="164.7" cy="328.3" r="2.9" stroke="#f23a3a" stroke-width="1.2" fill="#fff"/>
<circle cx="168.5" cy="331.0" r="2.9" stroke="#f23a3a" stroke-width="1.2" fill="#fff"/>
<circle cx="172.0" cy="333.0" r="2.9" stroke="#f23a3a" stroke-width="1.2" fill="#fff"/>
<path d="M117.5,281.1 L126.6,292.1 L135.0,290.8 L142.5,297.2 L149.0,305.5 L155.5,311.0 L160.5,314.0 L172.5,320.6" stroke="#f08c3c" stroke-width="1.2" fill="none"/>
<circle cx="117.5" cy="281.1" r="2.9" stroke="#f08c3c" stroke-width="1.2" fill="#fff"/>
<circle cx="126.6" cy="292.1" r="2.9" stroke="#f08c3c" stroke-width="1.2" fill="#fff"/>
<circle cx="135.0" cy="290.8" r="2.9" stroke="#f08c3c" stroke-width="1.2" fill="#fff"/>
<circle cx="142.5" cy="297.2" r="2.9" stroke="#f08c3c" stroke-width="1.2" fill="#fff"/>
<circle cx="149.0" cy="305.5" r="2.9" stroke="#f08c3c" stroke-width="1.2" fill="#fff"/>
<circle cx="155.5" cy="311.0" r="2.9" stroke="#f08c3c" stroke-width="1.2" fill="#fff"/>
<circle cx="160.5" cy="314.0" r="2.9" stroke="#f08c3c" stroke-width="1.2" fill="#fff"/>
<circle cx="172.5" cy="320.6" r="2.9" stroke="#f08c3c" stroke-width="1.2" fill="#fff"/>
<path d="M107.8,265.5 L117.6,276.6 L126.6,281.1 L142.5,290.1 L149.0,297.2 L154.8,303.2 L160.3,306.6 L164.7,323.2 L172.5,325.2" stroke="#9a2cf0" stroke-width="1.2" fill="none"/>
<circle cx="107.8" cy="265.5" r="2.9" stroke="#9a2cf0" stroke-width="1.2" fill="#fff"/>
<circle cx="117.6" cy="276.6" r="2.9" stroke="#9a2cf0" stroke-width="1.2" fill="#fff"/>
<circle cx="126.6" cy="281.1" r="2.9" stroke="#9a2cf0" stroke-width="1.2" fill="#fff"/>
<circle cx="142.5" cy="290.1" r="2.9" stroke="#9a2cf0" stroke-width="1.2" fill="#fff"/>
<circle cx="149.0" cy="297.2" r="2.9" stroke="#9a2cf0" stroke-width="1.2" fill="#fff"/>
<circle cx="154.8" cy="303.2" r="2.9" stroke="#9a2cf0" stroke-width="1.2" fill="#fff"/>
<circle cx="160.3" cy="306.6" r="2.9" stroke="#9a2cf0" stroke-width="1.2" fill="#fff"/>
<circle cx="164.7" cy="323.2" r="2.9" stroke="#9a2cf0" stroke-width="1.2" fill="#fff"/>
<circle cx="172.5" cy="325.2" r="2.9" stroke="#9a2cf0" stroke-width="1.2" fill="#fff"/>
<path d="M95.9,252.6 L107.8,259.5 L117.6,268.0 L126.6,276.0 L142.4,292.2 L148.6,298.8 L154.3,310.2 L160.0,318.0 L164.2,327.0" stroke="#3a9a34" stroke-width="1.2" fill="none"/>
<circle cx="95.9" cy="252.6" r="2.9" stroke="#3a9a34" stroke-width="1.2" fill="#fff"/>
<circle cx="107.8" cy="259.5" r="2.9" stroke="#3a9a34" stroke-width="1.2" fill="#fff"/>
<circle cx="117.6" cy="268.0" r="2.9" stroke="#3a9a34" stroke-width="1.2" fill="#fff"/>
<circle cx="126.6" cy="276.0" r="2.9" stroke="#3a9a34" stroke-width="1.2" fill="#fff"/>
<circle cx="142.4" cy="292.2" r="2.9" stroke="#3a9a34" stroke-width="1.2" fill="#fff"/>
<circle cx="148.6" cy="298.8" r="2.9" stroke="#3a9a34" stroke-width="1.2" fill="#fff"/>
<circle cx="154.3" cy="310.2" r="2.9" stroke="#3a9a34" stroke-width="1.2" fill="#fff"/>
<circle cx="160.0" cy="318.0" r="2.9" stroke="#3a9a34" stroke-width="1.2" fill="#fff"/>
<circle cx="164.2" cy="327.0" r="2.9" stroke="#3a9a34" stroke-width="1.2" fill="#fff"/>
<path d="M82.5,259.2 L95.8,247.4 L107.6,262.5 L117.4,274.4 L126.4,281.5 L142.4,305.8 L148.8,320.6" stroke="#ee6cf2" stroke-width="1.2" fill="none"/>
<circle cx="82.5" cy="259.2" r="2.9" stroke="#ee6cf2" stroke-width="1.2" fill="#fff"/>
<circle cx="95.8" cy="247.4" r="2.9" stroke="#ee6cf2" stroke-width="1.2" fill="#fff"/>
<circle cx="107.6" cy="262.5" r="2.9" stroke="#ee6cf2" stroke-width="1.2" fill="#fff"/>
<circle cx="117.4" cy="274.4" r="2.9" stroke="#ee6cf2" stroke-width="1.2" fill="#fff"/>
<circle cx="126.4" cy="281.5" r="2.9" stroke="#ee6cf2" stroke-width="1.2" fill="#fff"/>
<circle cx="142.4" cy="305.8" r="2.9" stroke="#ee6cf2" stroke-width="1.2" fill="#fff"/>
<circle cx="148.8" cy="320.6" r="2.9" stroke="#ee6cf2" stroke-width="1.2" fill="#fff"/>
<path d="M82.3,239.8 L95.6,252.2 L107.8,256.2 L117.6,263.9 L126.6,273.4 L142.4,305.6 L149.0,320.8 L154.4,334.4 L159.9,334.4 L164.9,334.4 L172.6,334.4 L178.6,334.4 L184.8,334.4 L202.4,334.4" stroke="#6ccaf8" stroke-width="1.2" fill="none"/>
<circle cx="82.3" cy="239.8" r="2.9" stroke="#6ccaf8" stroke-width="1.2" fill="#fff"/>
<circle cx="95.6" cy="252.2" r="2.9" stroke="#6ccaf8" stroke-width="1.2" fill="#fff"/>
<circle cx="107.8" cy="256.2" r="2.9" stroke="#6ccaf8" stroke-width="1.2" fill="#fff"/>
<circle cx="117.6" cy="263.9" r="2.9" stroke="#6ccaf8" stroke-width="1.2" fill="#fff"/>
<circle cx="126.6" cy="273.4" r="2.9" stroke="#6ccaf8" stroke-width="1.2" fill="#fff"/>
<circle cx="142.4" cy="305.6" r="2.9" stroke="#6ccaf8" stroke-width="1.2" fill="#fff"/>
<circle cx="149.0" cy="320.8" r="2.9" stroke="#6ccaf8" stroke-width="1.2" fill="#fff"/>
<circle cx="154.4" cy="334.4" r="2.9" stroke="#6ccaf8" stroke-width="1.2" fill="#fff"/>
<circle cx="159.9" cy="334.4" r="2.9" stroke="#6ccaf8" stroke-width="1.2" fill="#fff"/>
<circle cx="164.9" cy="334.4" r="2.9" stroke="#6ccaf8" stroke-width="1.2" fill="#fff"/>
<circle cx="172.6" cy="334.4" r="2.9" stroke="#6ccaf8" stroke-width="1.2" fill="#fff"/>
<circle cx="178.6" cy="334.4" r="2.9" stroke="#6ccaf8" stroke-width="1.2" fill="#fff"/>
<circle cx="184.8" cy="334.4" r="2.9" stroke="#6ccaf8" stroke-width="1.2" fill="#fff"/>
<circle cx="202.4" cy="334.4" r="2.9" stroke="#6ccaf8" stroke-width="1.2" fill="#fff"/>
</g>
<line x1="140.1" y1="230.3" x2="165.6" y2="230.3" stroke="#f23a3a" stroke-width="1.2"/>
<circle cx="153.1" cy="230.3" r="2.9" stroke="#f23a3a" stroke-width="1.2" fill="#fff"/>
<text x="168.60" y="234.30" font-size="11.2" text-anchor="start" fill="#1a1a1a" >290 K</text>
<line x1="140.1" y1="244.3" x2="165.6" y2="244.3" stroke="#f08c3c" stroke-width="1.2"/>
<circle cx="153.1" cy="244.3" r="2.9" stroke="#f08c3c" stroke-width="1.2" fill="#fff"/>
<text x="168.60" y="248.30" font-size="11.2" text-anchor="start" fill="#1a1a1a" >250 K</text>
<line x1="140.1" y1="258.3" x2="165.6" y2="258.3" stroke="#9a2cf0" stroke-width="1.2"/>
<circle cx="153.1" cy="258.3" r="2.9" stroke="#9a2cf0" stroke-width="1.2" fill="#fff"/>
<text x="168.60" y="262.30" font-size="11.2" text-anchor="start" fill="#1a1a1a" >200 K</text>
<line x1="49.6" y1="304.2" x2="75.5" y2="304.2" stroke="#3a9a34" stroke-width="1.2"/>
<circle cx="62.6" cy="304.2" r="2.9" stroke="#3a9a34" stroke-width="1.2" fill="#fff"/>
<text x="79.00" y="308.20" font-size="11.2" text-anchor="start" fill="#1a1a1a" >150 K</text>
<line x1="49.6" y1="318.15" x2="75.5" y2="318.15" stroke="#ee6cf2" stroke-width="1.2"/>
<circle cx="62.6" cy="318.15" r="2.9" stroke="#ee6cf2" stroke-width="1.2" fill="#fff"/>
<text x="79.00" y="322.15" font-size="11.2" text-anchor="start" fill="#1a1a1a" >100 K</text>
<line x1="49.6" y1="332.09999999999997" x2="75.5" y2="332.09999999999997" stroke="#6ccaf8" stroke-width="1.2"/>
<circle cx="62.6" cy="332.09999999999997" r="2.9" stroke="#6ccaf8" stroke-width="1.2" fill="#fff"/>
<text x="79.00" y="336.10" font-size="11.2" text-anchor="start" fill="#1a1a1a" >50 K</text>
<rect x="280.4" y="221.0" width="165.80" height="133.20" fill="none" stroke="#1f1f1f" stroke-width="1.1"/>
<line x1="280.4" y1="336.60" x2="283.0" y2="336.60" stroke="#1f1f1f" stroke-width="1.1"/>
<text x="277.40" y="340.30" font-size="10.3" text-anchor="end" fill="#1a1a1a" >28</text>
<line x1="280.4" y1="300.96" x2="283.0" y2="300.96" stroke="#1f1f1f" stroke-width="1.1"/>
<text x="277.40" y="304.66" font-size="10.3" text-anchor="end" fill="#1a1a1a" >32</text>
<line x1="280.4" y1="265.32" x2="283.0" y2="265.32" stroke="#1f1f1f" stroke-width="1.1"/>
<text x="277.40" y="269.02" font-size="10.3" text-anchor="end" fill="#1a1a1a" >36</text>
<line x1="280.4" y1="229.68" x2="283.0" y2="229.68" stroke="#1f1f1f" stroke-width="1.1"/>
<text x="277.40" y="233.38" font-size="10.3" text-anchor="end" fill="#1a1a1a" >40</text>
<line x1="294.08" y1="354.2" x2="294.08" y2="351.59999999999997" stroke="#1f1f1f" stroke-width="1.1"/>
<text x="294.08" y="365.60" font-size="10.3" text-anchor="middle" fill="#1a1a1a" >50</text>
<line x1="321.76" y1="354.2" x2="321.76" y2="351.59999999999997" stroke="#1f1f1f" stroke-width="1.1"/>
<text x="321.76" y="365.60" font-size="10.3" text-anchor="middle" fill="#1a1a1a" >100</text>
<line x1="349.44" y1="354.2" x2="349.44" y2="351.59999999999997" stroke="#1f1f1f" stroke-width="1.1"/>
<text x="349.44" y="365.60" font-size="10.3" text-anchor="middle" fill="#1a1a1a" >150</text>
<line x1="377.12" y1="354.2" x2="377.12" y2="351.59999999999997" stroke="#1f1f1f" stroke-width="1.1"/>
<text x="377.12" y="365.60" font-size="10.3" text-anchor="middle" fill="#1a1a1a" >200</text>
<line x1="404.80" y1="354.2" x2="404.80" y2="351.59999999999997" stroke="#1f1f1f" stroke-width="1.1"/>
<text x="404.80" y="365.60" font-size="10.3" text-anchor="middle" fill="#1a1a1a" >250</text>
<line x1="432.48" y1="354.2" x2="432.48" y2="351.59999999999997" stroke="#1f1f1f" stroke-width="1.1"/>
<text x="432.48" y="365.60" font-size="10.3" text-anchor="middle" fill="#1a1a1a" >300</text>
<line x1="294.08" y1="265.85" x2="294.08" y2="292.05" stroke="#a83cf4" stroke-width="1.1"/>
<line x1="292.18" y1="265.85" x2="295.98" y2="265.85" stroke="#a83cf4" stroke-width="1.1"/>
<line x1="292.18" y1="292.05" x2="295.98" y2="292.05" stroke="#a83cf4" stroke-width="1.1"/>
<path d="M294.08,275.35 L297.88,278.95 L294.08,282.55 L290.28,278.95 Z" stroke="#a83cf4" stroke-width="1.2" fill="#fff"/>
<line x1="321.76" y1="266.39" x2="321.76" y2="275.30" stroke="#a83cf4" stroke-width="1.1"/>
<line x1="319.86" y1="266.39" x2="323.66" y2="266.39" stroke="#a83cf4" stroke-width="1.1"/>
<line x1="319.86" y1="275.30" x2="323.66" y2="275.30" stroke="#a83cf4" stroke-width="1.1"/>
<path d="M321.76,267.24 L325.56,270.84 L321.76,274.44 L317.96,270.84 Z" stroke="#a83cf4" stroke-width="1.2" fill="#fff"/>
<line x1="349.44" y1="284.48" x2="349.44" y2="298.20" stroke="#a83cf4" stroke-width="1.1"/>
<line x1="347.54" y1="284.48" x2="351.34" y2="284.48" stroke="#a83cf4" stroke-width="1.1"/>
<line x1="347.54" y1="298.20" x2="351.34" y2="298.20" stroke="#a83cf4" stroke-width="1.1"/>
<path d="M349.44,287.74 L353.24,291.34 L349.44,294.94 L345.64,291.34 Z" stroke="#a83cf4" stroke-width="1.2" fill="#fff"/>
<line x1="377.12" y1="290.80" x2="377.12" y2="322.52" stroke="#a83cf4" stroke-width="1.1"/>
<line x1="375.22" y1="290.80" x2="379.02" y2="290.80" stroke="#a83cf4" stroke-width="1.1"/>
<line x1="375.22" y1="322.52" x2="379.02" y2="322.52" stroke="#a83cf4" stroke-width="1.1"/>
<path d="M377.12,303.06 L380.92,306.66 L377.12,310.26 L373.32,306.66 Z" stroke="#a83cf4" stroke-width="1.2" fill="#fff"/>
<line x1="404.80" y1="321.45" x2="404.80" y2="336.24" stroke="#a83cf4" stroke-width="1.1"/>
<line x1="402.90" y1="321.45" x2="406.70" y2="321.45" stroke="#a83cf4" stroke-width="1.1"/>
<line x1="402.90" y1="336.24" x2="406.70" y2="336.24" stroke="#a83cf4" stroke-width="1.1"/>
<path d="M404.80,325.25 L408.60,328.85 L404.80,332.45 L401.00,328.85 Z" stroke="#a83cf4" stroke-width="1.2" fill="#fff"/>
<line x1="426.94" y1="239.75" x2="426.94" y2="273.07" stroke="#a83cf4" stroke-width="1.1"/>
<line x1="425.04" y1="239.75" x2="428.84" y2="239.75" stroke="#a83cf4" stroke-width="1.1"/>
<line x1="425.04" y1="273.07" x2="428.84" y2="273.07" stroke="#a83cf4" stroke-width="1.1"/>
<path d="M426.94,252.81 L430.74,256.41 L426.94,260.01 L423.14,256.41 Z" stroke="#a83cf4" stroke-width="1.2" fill="#fff"/>
<text x="363.8" y="382.6" font-size="12" text-anchor="middle" fill="#1a1a1a"><tspan font-style="italic">T</tspan> (K)</text>
<text transform="translate(261.4,285.5) rotate(-90)" font-size="11.6" text-anchor="middle" fill="#1a1a1a"><tspan font-family="Liberation Serif, serif" font-style="italic">u</tspan> (10<tspan font-size="8" dy="-4.5">-11</tspan><tspan dy="4.5"> m</tspan><tspan font-size="8" dy="-4.5">3</tspan><tspan dy="4.5"> s</tspan><tspan font-size="8" dy="-4.5">-1</tspan><tspan dy="4.5"> A</tspan><tspan font-size="8" dy="-4.5">-1</tspan><tspan dy="4.5">)</tspan></text>
<rect x="517.4" y="220.4" width="165.90" height="133.40" fill="none" stroke="#1f1f1f" stroke-width="1.1"/>
<line x1="517.4" y1="350.40" x2="520.0" y2="350.40" stroke="#1f1f1f" stroke-width="1.1"/>
<text x="514.40" y="354.10" font-size="10.3" text-anchor="end" fill="#1a1a1a" >1</text>
<line x1="517.4" y1="313.20" x2="520.0" y2="313.20" stroke="#1f1f1f" stroke-width="1.1"/>
<text x="514.40" y="316.90" font-size="10.3" text-anchor="end" fill="#1a1a1a" >2</text>
<line x1="517.4" y1="276.00" x2="520.0" y2="276.00" stroke="#1f1f1f" stroke-width="1.1"/>
<text x="514.40" y="279.70" font-size="10.3" text-anchor="end" fill="#1a1a1a" >3</text>
<line x1="517.4" y1="238.80" x2="520.0" y2="238.80" stroke="#1f1f1f" stroke-width="1.1"/>
<text x="514.40" y="242.50" font-size="10.3" text-anchor="end" fill="#1a1a1a" >4</text>
<line x1="531.40" y1="353.8" x2="531.40" y2="351.2" stroke="#1f1f1f" stroke-width="1.1"/>
<text x="531.40" y="365.60" font-size="10.3" text-anchor="middle" fill="#1a1a1a" >50</text>
<line x1="559.00" y1="353.8" x2="559.00" y2="351.2" stroke="#1f1f1f" stroke-width="1.1"/>
<text x="559.00" y="365.60" font-size="10.3" text-anchor="middle" fill="#1a1a1a" >100</text>
<line x1="586.60" y1="353.8" x2="586.60" y2="351.2" stroke="#1f1f1f" stroke-width="1.1"/>
<text x="586.60" y="365.60" font-size="10.3" text-anchor="middle" fill="#1a1a1a" >150</text>
<line x1="614.20" y1="353.8" x2="614.20" y2="351.2" stroke="#1f1f1f" stroke-width="1.1"/>
<text x="614.20" y="365.60" font-size="10.3" text-anchor="middle" fill="#1a1a1a" >200</text>
<line x1="641.80" y1="353.8" x2="641.80" y2="351.2" stroke="#1f1f1f" stroke-width="1.1"/>
<text x="641.80" y="365.60" font-size="10.3" text-anchor="middle" fill="#1a1a1a" >250</text>
<line x1="669.40" y1="353.8" x2="669.40" y2="351.2" stroke="#1f1f1f" stroke-width="1.1"/>
<text x="669.40" y="365.60" font-size="10.3" text-anchor="middle" fill="#1a1a1a" >300</text>
<line x1="531.40" y1="239.60" x2="531.40" y2="252.50" stroke="#ee36ee" stroke-width="1.2"/>
<line x1="529.50" y1="239.60" x2="533.30" y2="239.60" stroke="#ee36ee" stroke-width="1.2"/>
<line x1="529.50" y1="252.50" x2="533.30" y2="252.50" stroke="#ee36ee" stroke-width="1.2"/>
<path d="M531.40,242.40 L532.31,244.80 L534.87,244.92 L532.87,246.53 L533.55,249.00 L531.40,247.60 L529.25,249.00 L529.93,246.53 L527.93,244.92 L530.49,244.80 Z" stroke="#ee36ee" stroke-width="1.6" fill="#fff" stroke-linejoin="round"/>
<path d="M559.00,238.80 L559.91,241.20 L562.47,241.32 L560.47,242.93 L561.15,245.40 L559.00,244.00 L556.85,245.40 L557.53,242.93 L555.53,241.32 L558.09,241.20 Z" stroke="#ee36ee" stroke-width="1.6" fill="#fff" stroke-linejoin="round"/>
<path d="M586.60,277.60 L587.51,280.00 L590.07,280.12 L588.07,281.73 L588.75,284.20 L586.60,282.80 L584.45,284.20 L585.13,281.73 L583.13,280.12 L585.69,280.00 Z" stroke="#ee36ee" stroke-width="1.6" fill="#fff" stroke-linejoin="round"/>
<line x1="614.20" y1="289.70" x2="614.20" y2="313.10" stroke="#ee36ee" stroke-width="1.2"/>
<line x1="612.30" y1="289.70" x2="616.10" y2="289.70" stroke="#ee36ee" stroke-width="1.2"/>
<line x1="612.30" y1="313.10" x2="616.10" y2="313.10" stroke="#ee36ee" stroke-width="1.2"/>
<path d="M614.20,297.80 L615.11,300.20 L617.67,300.32 L615.67,301.93 L616.35,304.40 L614.20,303.00 L612.05,304.40 L612.73,301.93 L610.73,300.32 L613.29,300.20 Z" stroke="#ee36ee" stroke-width="1.6" fill="#fff" stroke-linejoin="round"/>
<line x1="641.80" y1="314.60" x2="641.80" y2="328.10" stroke="#ee36ee" stroke-width="1.2"/>
<line x1="639.90" y1="314.60" x2="643.70" y2="314.60" stroke="#ee36ee" stroke-width="1.2"/>
<line x1="639.90" y1="328.10" x2="643.70" y2="328.10" stroke="#ee36ee" stroke-width="1.2"/>
<path d="M641.80,317.80 L642.71,320.20 L645.27,320.32 L643.27,321.93 L643.95,324.40 L641.80,323.00 L639.65,324.40 L640.33,321.93 L638.33,320.32 L640.89,320.20 Z" stroke="#ee36ee" stroke-width="1.6" fill="#fff" stroke-linejoin="round"/>
<path d="M663.88,279.30 L664.79,281.70 L667.35,281.82 L665.35,283.43 L666.03,285.90 L663.88,284.50 L661.73,285.90 L662.41,283.43 L660.41,281.82 L662.97,281.70 Z" stroke="#ee36ee" stroke-width="1.6" fill="#fff" stroke-linejoin="round"/>
<text x="600.5" y="382.6" font-size="12" text-anchor="middle" fill="#1a1a1a"><tspan font-style="italic">T</tspan> (K)</text>
<text transform="translate(504.6,288.3) rotate(-90)" font-size="11.6" text-anchor="middle" fill="#1a1a1a"><tspan font-style="italic">J</tspan><tspan font-size="8" dy="2.5">th</tspan><tspan dy="-2.5"> (MA cm</tspan><tspan font-size="8" dy="-4.5">-2</tspan><tspan dy="4.5">)</tspan></text>
</svg>
</body></html>
